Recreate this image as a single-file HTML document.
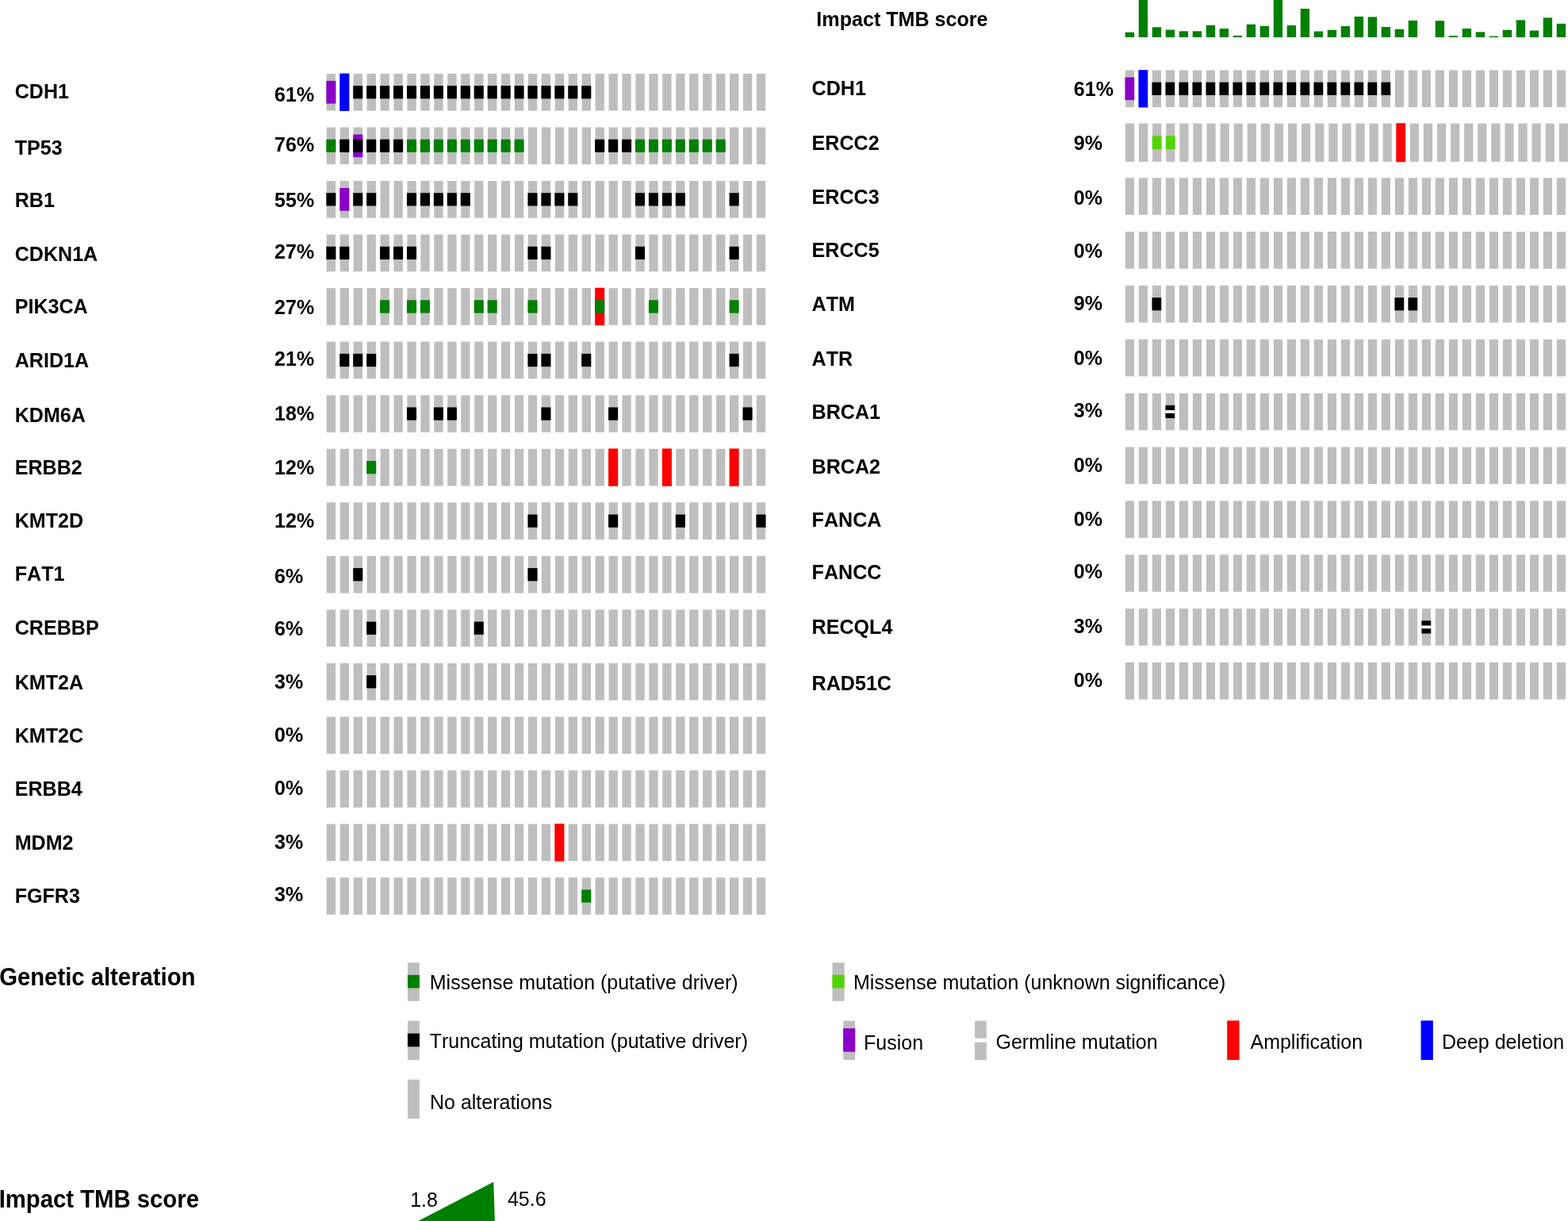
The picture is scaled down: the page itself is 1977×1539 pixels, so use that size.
<!DOCTYPE html>
<html lang="en">
<head>
<meta charset="utf-8">
<title>Oncoprint – genetic alterations and Impact TMB score</title>
<style>
  html, body { margin: 0; padding: 0; background: #ffffff; }
  body { width: 1977px; height: 1539px; overflow: hidden; }
  svg { display: block; }
  text { font-family: "Liberation Sans", sans-serif; fill: #000; font-kerning: none; font-variant-ligatures: none; }
  .gene { font-size: 25.1px; font-weight: bold; }
  .pct  { font-size: 25.1px; font-weight: bold; }
  .tmbt { font-size: 25.1px; font-weight: bold; }
  .head { font-size: 29.3px; font-weight: bold; }
  .leg  { font-size: 25px; font-weight: normal; }
</style>
</head>
<body>
<svg width="1977" height="1539" viewBox="0 0 1977 1539">
<rect x="0" y="0" width="1977" height="1539" fill="#ffffff"/>
<g id="left-panel">
<g class="row">
<rect x="411.80" y="92.90" width="11.30" height="46.70" fill="#bebebe"/>
<rect x="411.35" y="101.89" width="12.10" height="28.72" fill="#8b00c9"/>
<rect x="428.29" y="92.55" width="12.10" height="47.40" fill="#0000ff"/>
<rect x="445.68" y="92.90" width="11.30" height="46.70" fill="#bebebe"/>
<rect x="445.23" y="108.12" width="12.10" height="16.27" fill="#000000"/>
<rect x="462.62" y="92.90" width="11.30" height="46.70" fill="#bebebe"/>
<rect x="462.17" y="108.12" width="12.10" height="16.27" fill="#000000"/>
<rect x="479.56" y="92.90" width="11.30" height="46.70" fill="#bebebe"/>
<rect x="479.11" y="108.12" width="12.10" height="16.27" fill="#000000"/>
<rect x="496.50" y="92.90" width="11.30" height="46.70" fill="#bebebe"/>
<rect x="496.05" y="108.12" width="12.10" height="16.27" fill="#000000"/>
<rect x="513.44" y="92.90" width="11.30" height="46.70" fill="#bebebe"/>
<rect x="512.99" y="108.12" width="12.10" height="16.27" fill="#000000"/>
<rect x="530.38" y="92.90" width="11.30" height="46.70" fill="#bebebe"/>
<rect x="529.93" y="108.12" width="12.10" height="16.27" fill="#000000"/>
<rect x="547.32" y="92.90" width="11.30" height="46.70" fill="#bebebe"/>
<rect x="546.87" y="108.12" width="12.10" height="16.27" fill="#000000"/>
<rect x="564.26" y="92.90" width="11.30" height="46.70" fill="#bebebe"/>
<rect x="563.81" y="108.12" width="12.10" height="16.27" fill="#000000"/>
<rect x="581.20" y="92.90" width="11.30" height="46.70" fill="#bebebe"/>
<rect x="580.75" y="108.12" width="12.10" height="16.27" fill="#000000"/>
<rect x="598.14" y="92.90" width="11.30" height="46.70" fill="#bebebe"/>
<rect x="597.69" y="108.12" width="12.10" height="16.27" fill="#000000"/>
<rect x="615.08" y="92.90" width="11.30" height="46.70" fill="#bebebe"/>
<rect x="614.63" y="108.12" width="12.10" height="16.27" fill="#000000"/>
<rect x="632.02" y="92.90" width="11.30" height="46.70" fill="#bebebe"/>
<rect x="631.57" y="108.12" width="12.10" height="16.27" fill="#000000"/>
<rect x="648.96" y="92.90" width="11.30" height="46.70" fill="#bebebe"/>
<rect x="648.51" y="108.12" width="12.10" height="16.27" fill="#000000"/>
<rect x="665.90" y="92.90" width="11.30" height="46.70" fill="#bebebe"/>
<rect x="665.45" y="108.12" width="12.10" height="16.27" fill="#000000"/>
<rect x="682.84" y="92.90" width="11.30" height="46.70" fill="#bebebe"/>
<rect x="682.39" y="108.12" width="12.10" height="16.27" fill="#000000"/>
<rect x="699.78" y="92.90" width="11.30" height="46.70" fill="#bebebe"/>
<rect x="699.33" y="108.12" width="12.10" height="16.27" fill="#000000"/>
<rect x="716.72" y="92.90" width="11.30" height="46.70" fill="#bebebe"/>
<rect x="716.27" y="108.12" width="12.10" height="16.27" fill="#000000"/>
<rect x="733.66" y="92.90" width="11.30" height="46.70" fill="#bebebe"/>
<rect x="733.21" y="108.12" width="12.10" height="16.27" fill="#000000"/>
<rect x="750.60" y="92.90" width="11.30" height="46.70" fill="#bebebe"/>
<rect x="767.54" y="92.90" width="11.30" height="46.70" fill="#bebebe"/>
<rect x="784.48" y="92.90" width="11.30" height="46.70" fill="#bebebe"/>
<rect x="801.42" y="92.90" width="11.30" height="46.70" fill="#bebebe"/>
<rect x="818.36" y="92.90" width="11.30" height="46.70" fill="#bebebe"/>
<rect x="835.30" y="92.90" width="11.30" height="46.70" fill="#bebebe"/>
<rect x="852.24" y="92.90" width="11.30" height="46.70" fill="#bebebe"/>
<rect x="869.18" y="92.90" width="11.30" height="46.70" fill="#bebebe"/>
<rect x="886.12" y="92.90" width="11.30" height="46.70" fill="#bebebe"/>
<rect x="903.06" y="92.90" width="11.30" height="46.70" fill="#bebebe"/>
<rect x="920.00" y="92.90" width="11.30" height="46.70" fill="#bebebe"/>
<rect x="936.94" y="92.90" width="11.30" height="46.70" fill="#bebebe"/>
<rect x="953.88" y="92.90" width="11.30" height="46.70" fill="#bebebe"/>
</g>
<g class="row">
<rect x="411.80" y="160.45" width="11.30" height="46.70" fill="#bebebe"/>
<rect x="411.35" y="175.67" width="12.10" height="16.27" fill="#008000"/>
<rect x="428.74" y="160.45" width="11.30" height="46.70" fill="#bebebe"/>
<rect x="428.29" y="175.67" width="12.10" height="16.27" fill="#000000"/>
<rect x="445.68" y="160.45" width="11.30" height="46.70" fill="#bebebe"/>
<rect x="445.23" y="169.44" width="12.10" height="28.72" fill="#8b00c9"/>
<rect x="445.23" y="175.67" width="12.10" height="16.27" fill="#000000"/>
<rect x="462.62" y="160.45" width="11.30" height="46.70" fill="#bebebe"/>
<rect x="462.17" y="175.67" width="12.10" height="16.27" fill="#000000"/>
<rect x="479.56" y="160.45" width="11.30" height="46.70" fill="#bebebe"/>
<rect x="479.11" y="175.67" width="12.10" height="16.27" fill="#000000"/>
<rect x="496.50" y="160.45" width="11.30" height="46.70" fill="#bebebe"/>
<rect x="496.05" y="175.67" width="12.10" height="16.27" fill="#000000"/>
<rect x="513.44" y="160.45" width="11.30" height="46.70" fill="#bebebe"/>
<rect x="512.99" y="175.67" width="12.10" height="16.27" fill="#008000"/>
<rect x="530.38" y="160.45" width="11.30" height="46.70" fill="#bebebe"/>
<rect x="529.93" y="175.67" width="12.10" height="16.27" fill="#008000"/>
<rect x="547.32" y="160.45" width="11.30" height="46.70" fill="#bebebe"/>
<rect x="546.87" y="175.67" width="12.10" height="16.27" fill="#008000"/>
<rect x="564.26" y="160.45" width="11.30" height="46.70" fill="#bebebe"/>
<rect x="563.81" y="175.67" width="12.10" height="16.27" fill="#008000"/>
<rect x="581.20" y="160.45" width="11.30" height="46.70" fill="#bebebe"/>
<rect x="580.75" y="175.67" width="12.10" height="16.27" fill="#008000"/>
<rect x="598.14" y="160.45" width="11.30" height="46.70" fill="#bebebe"/>
<rect x="597.69" y="175.67" width="12.10" height="16.27" fill="#008000"/>
<rect x="615.08" y="160.45" width="11.30" height="46.70" fill="#bebebe"/>
<rect x="614.63" y="175.67" width="12.10" height="16.27" fill="#008000"/>
<rect x="632.02" y="160.45" width="11.30" height="46.70" fill="#bebebe"/>
<rect x="631.57" y="175.67" width="12.10" height="16.27" fill="#008000"/>
<rect x="648.96" y="160.45" width="11.30" height="46.70" fill="#bebebe"/>
<rect x="648.51" y="175.67" width="12.10" height="16.27" fill="#008000"/>
<rect x="665.90" y="160.45" width="11.30" height="46.70" fill="#bebebe"/>
<rect x="682.84" y="160.45" width="11.30" height="46.70" fill="#bebebe"/>
<rect x="699.78" y="160.45" width="11.30" height="46.70" fill="#bebebe"/>
<rect x="716.72" y="160.45" width="11.30" height="46.70" fill="#bebebe"/>
<rect x="733.66" y="160.45" width="11.30" height="46.70" fill="#bebebe"/>
<rect x="750.60" y="160.45" width="11.30" height="46.70" fill="#bebebe"/>
<rect x="750.15" y="175.67" width="12.10" height="16.27" fill="#000000"/>
<rect x="767.54" y="160.45" width="11.30" height="46.70" fill="#bebebe"/>
<rect x="767.09" y="175.67" width="12.10" height="16.27" fill="#000000"/>
<rect x="784.48" y="160.45" width="11.30" height="46.70" fill="#bebebe"/>
<rect x="784.03" y="175.67" width="12.10" height="16.27" fill="#000000"/>
<rect x="801.42" y="160.45" width="11.30" height="46.70" fill="#bebebe"/>
<rect x="800.97" y="175.67" width="12.10" height="16.27" fill="#008000"/>
<rect x="818.36" y="160.45" width="11.30" height="46.70" fill="#bebebe"/>
<rect x="817.91" y="175.67" width="12.10" height="16.27" fill="#008000"/>
<rect x="835.30" y="160.45" width="11.30" height="46.70" fill="#bebebe"/>
<rect x="834.85" y="175.67" width="12.10" height="16.27" fill="#008000"/>
<rect x="852.24" y="160.45" width="11.30" height="46.70" fill="#bebebe"/>
<rect x="851.79" y="175.67" width="12.10" height="16.27" fill="#008000"/>
<rect x="869.18" y="160.45" width="11.30" height="46.70" fill="#bebebe"/>
<rect x="868.73" y="175.67" width="12.10" height="16.27" fill="#008000"/>
<rect x="886.12" y="160.45" width="11.30" height="46.70" fill="#bebebe"/>
<rect x="885.67" y="175.67" width="12.10" height="16.27" fill="#008000"/>
<rect x="903.06" y="160.45" width="11.30" height="46.70" fill="#bebebe"/>
<rect x="902.61" y="175.67" width="12.10" height="16.27" fill="#008000"/>
<rect x="920.00" y="160.45" width="11.30" height="46.70" fill="#bebebe"/>
<rect x="936.94" y="160.45" width="11.30" height="46.70" fill="#bebebe"/>
<rect x="953.88" y="160.45" width="11.30" height="46.70" fill="#bebebe"/>
</g>
<g class="row">
<rect x="411.80" y="228.00" width="11.30" height="46.70" fill="#bebebe"/>
<rect x="411.35" y="243.22" width="12.10" height="16.27" fill="#000000"/>
<rect x="428.74" y="228.00" width="11.30" height="46.70" fill="#bebebe"/>
<rect x="428.29" y="236.99" width="12.10" height="28.72" fill="#8b00c9"/>
<rect x="445.68" y="228.00" width="11.30" height="46.70" fill="#bebebe"/>
<rect x="445.23" y="243.22" width="12.10" height="16.27" fill="#000000"/>
<rect x="462.62" y="228.00" width="11.30" height="46.70" fill="#bebebe"/>
<rect x="462.17" y="243.22" width="12.10" height="16.27" fill="#000000"/>
<rect x="479.56" y="228.00" width="11.30" height="46.70" fill="#bebebe"/>
<rect x="496.50" y="228.00" width="11.30" height="46.70" fill="#bebebe"/>
<rect x="513.44" y="228.00" width="11.30" height="46.70" fill="#bebebe"/>
<rect x="512.99" y="243.22" width="12.10" height="16.27" fill="#000000"/>
<rect x="530.38" y="228.00" width="11.30" height="46.70" fill="#bebebe"/>
<rect x="529.93" y="243.22" width="12.10" height="16.27" fill="#000000"/>
<rect x="547.32" y="228.00" width="11.30" height="46.70" fill="#bebebe"/>
<rect x="546.87" y="243.22" width="12.10" height="16.27" fill="#000000"/>
<rect x="564.26" y="228.00" width="11.30" height="46.70" fill="#bebebe"/>
<rect x="563.81" y="243.22" width="12.10" height="16.27" fill="#000000"/>
<rect x="581.20" y="228.00" width="11.30" height="46.70" fill="#bebebe"/>
<rect x="580.75" y="243.22" width="12.10" height="16.27" fill="#000000"/>
<rect x="598.14" y="228.00" width="11.30" height="46.70" fill="#bebebe"/>
<rect x="615.08" y="228.00" width="11.30" height="46.70" fill="#bebebe"/>
<rect x="632.02" y="228.00" width="11.30" height="46.70" fill="#bebebe"/>
<rect x="648.96" y="228.00" width="11.30" height="46.70" fill="#bebebe"/>
<rect x="665.90" y="228.00" width="11.30" height="46.70" fill="#bebebe"/>
<rect x="665.45" y="243.22" width="12.10" height="16.27" fill="#000000"/>
<rect x="682.84" y="228.00" width="11.30" height="46.70" fill="#bebebe"/>
<rect x="682.39" y="243.22" width="12.10" height="16.27" fill="#000000"/>
<rect x="699.78" y="228.00" width="11.30" height="46.70" fill="#bebebe"/>
<rect x="699.33" y="243.22" width="12.10" height="16.27" fill="#000000"/>
<rect x="716.72" y="228.00" width="11.30" height="46.70" fill="#bebebe"/>
<rect x="716.27" y="243.22" width="12.10" height="16.27" fill="#000000"/>
<rect x="733.66" y="228.00" width="11.30" height="46.70" fill="#bebebe"/>
<rect x="750.60" y="228.00" width="11.30" height="46.70" fill="#bebebe"/>
<rect x="767.54" y="228.00" width="11.30" height="46.70" fill="#bebebe"/>
<rect x="784.48" y="228.00" width="11.30" height="46.70" fill="#bebebe"/>
<rect x="801.42" y="228.00" width="11.30" height="46.70" fill="#bebebe"/>
<rect x="800.97" y="243.22" width="12.10" height="16.27" fill="#000000"/>
<rect x="818.36" y="228.00" width="11.30" height="46.70" fill="#bebebe"/>
<rect x="817.91" y="243.22" width="12.10" height="16.27" fill="#000000"/>
<rect x="835.30" y="228.00" width="11.30" height="46.70" fill="#bebebe"/>
<rect x="834.85" y="243.22" width="12.10" height="16.27" fill="#000000"/>
<rect x="852.24" y="228.00" width="11.30" height="46.70" fill="#bebebe"/>
<rect x="851.79" y="243.22" width="12.10" height="16.27" fill="#000000"/>
<rect x="869.18" y="228.00" width="11.30" height="46.70" fill="#bebebe"/>
<rect x="886.12" y="228.00" width="11.30" height="46.70" fill="#bebebe"/>
<rect x="903.06" y="228.00" width="11.30" height="46.70" fill="#bebebe"/>
<rect x="920.00" y="228.00" width="11.30" height="46.70" fill="#bebebe"/>
<rect x="919.55" y="243.22" width="12.10" height="16.27" fill="#000000"/>
<rect x="936.94" y="228.00" width="11.30" height="46.70" fill="#bebebe"/>
<rect x="953.88" y="228.00" width="11.30" height="46.70" fill="#bebebe"/>
</g>
<g class="row">
<rect x="411.80" y="295.55" width="11.30" height="46.70" fill="#bebebe"/>
<rect x="411.35" y="310.77" width="12.10" height="16.27" fill="#000000"/>
<rect x="428.74" y="295.55" width="11.30" height="46.70" fill="#bebebe"/>
<rect x="428.29" y="310.77" width="12.10" height="16.27" fill="#000000"/>
<rect x="445.68" y="295.55" width="11.30" height="46.70" fill="#bebebe"/>
<rect x="462.62" y="295.55" width="11.30" height="46.70" fill="#bebebe"/>
<rect x="479.56" y="295.55" width="11.30" height="46.70" fill="#bebebe"/>
<rect x="479.11" y="310.77" width="12.10" height="16.27" fill="#000000"/>
<rect x="496.50" y="295.55" width="11.30" height="46.70" fill="#bebebe"/>
<rect x="496.05" y="310.77" width="12.10" height="16.27" fill="#000000"/>
<rect x="513.44" y="295.55" width="11.30" height="46.70" fill="#bebebe"/>
<rect x="512.99" y="310.77" width="12.10" height="16.27" fill="#000000"/>
<rect x="530.38" y="295.55" width="11.30" height="46.70" fill="#bebebe"/>
<rect x="547.32" y="295.55" width="11.30" height="46.70" fill="#bebebe"/>
<rect x="564.26" y="295.55" width="11.30" height="46.70" fill="#bebebe"/>
<rect x="581.20" y="295.55" width="11.30" height="46.70" fill="#bebebe"/>
<rect x="598.14" y="295.55" width="11.30" height="46.70" fill="#bebebe"/>
<rect x="615.08" y="295.55" width="11.30" height="46.70" fill="#bebebe"/>
<rect x="632.02" y="295.55" width="11.30" height="46.70" fill="#bebebe"/>
<rect x="648.96" y="295.55" width="11.30" height="46.70" fill="#bebebe"/>
<rect x="665.90" y="295.55" width="11.30" height="46.70" fill="#bebebe"/>
<rect x="665.45" y="310.77" width="12.10" height="16.27" fill="#000000"/>
<rect x="682.84" y="295.55" width="11.30" height="46.70" fill="#bebebe"/>
<rect x="682.39" y="310.77" width="12.10" height="16.27" fill="#000000"/>
<rect x="699.78" y="295.55" width="11.30" height="46.70" fill="#bebebe"/>
<rect x="716.72" y="295.55" width="11.30" height="46.70" fill="#bebebe"/>
<rect x="733.66" y="295.55" width="11.30" height="46.70" fill="#bebebe"/>
<rect x="750.60" y="295.55" width="11.30" height="46.70" fill="#bebebe"/>
<rect x="767.54" y="295.55" width="11.30" height="46.70" fill="#bebebe"/>
<rect x="784.48" y="295.55" width="11.30" height="46.70" fill="#bebebe"/>
<rect x="801.42" y="295.55" width="11.30" height="46.70" fill="#bebebe"/>
<rect x="800.97" y="310.77" width="12.10" height="16.27" fill="#000000"/>
<rect x="818.36" y="295.55" width="11.30" height="46.70" fill="#bebebe"/>
<rect x="835.30" y="295.55" width="11.30" height="46.70" fill="#bebebe"/>
<rect x="852.24" y="295.55" width="11.30" height="46.70" fill="#bebebe"/>
<rect x="869.18" y="295.55" width="11.30" height="46.70" fill="#bebebe"/>
<rect x="886.12" y="295.55" width="11.30" height="46.70" fill="#bebebe"/>
<rect x="903.06" y="295.55" width="11.30" height="46.70" fill="#bebebe"/>
<rect x="920.00" y="295.55" width="11.30" height="46.70" fill="#bebebe"/>
<rect x="919.55" y="310.77" width="12.10" height="16.27" fill="#000000"/>
<rect x="936.94" y="295.55" width="11.30" height="46.70" fill="#bebebe"/>
<rect x="953.88" y="295.55" width="11.30" height="46.70" fill="#bebebe"/>
</g>
<g class="row">
<rect x="411.80" y="363.10" width="11.30" height="46.70" fill="#bebebe"/>
<rect x="428.74" y="363.10" width="11.30" height="46.70" fill="#bebebe"/>
<rect x="445.68" y="363.10" width="11.30" height="46.70" fill="#bebebe"/>
<rect x="462.62" y="363.10" width="11.30" height="46.70" fill="#bebebe"/>
<rect x="479.56" y="363.10" width="11.30" height="46.70" fill="#bebebe"/>
<rect x="479.11" y="378.32" width="12.10" height="16.27" fill="#008000"/>
<rect x="496.50" y="363.10" width="11.30" height="46.70" fill="#bebebe"/>
<rect x="513.44" y="363.10" width="11.30" height="46.70" fill="#bebebe"/>
<rect x="512.99" y="378.32" width="12.10" height="16.27" fill="#008000"/>
<rect x="530.38" y="363.10" width="11.30" height="46.70" fill="#bebebe"/>
<rect x="529.93" y="378.32" width="12.10" height="16.27" fill="#008000"/>
<rect x="547.32" y="363.10" width="11.30" height="46.70" fill="#bebebe"/>
<rect x="564.26" y="363.10" width="11.30" height="46.70" fill="#bebebe"/>
<rect x="581.20" y="363.10" width="11.30" height="46.70" fill="#bebebe"/>
<rect x="598.14" y="363.10" width="11.30" height="46.70" fill="#bebebe"/>
<rect x="597.69" y="378.32" width="12.10" height="16.27" fill="#008000"/>
<rect x="615.08" y="363.10" width="11.30" height="46.70" fill="#bebebe"/>
<rect x="614.63" y="378.32" width="12.10" height="16.27" fill="#008000"/>
<rect x="632.02" y="363.10" width="11.30" height="46.70" fill="#bebebe"/>
<rect x="648.96" y="363.10" width="11.30" height="46.70" fill="#bebebe"/>
<rect x="665.90" y="363.10" width="11.30" height="46.70" fill="#bebebe"/>
<rect x="665.45" y="378.32" width="12.10" height="16.27" fill="#008000"/>
<rect x="682.84" y="363.10" width="11.30" height="46.70" fill="#bebebe"/>
<rect x="699.78" y="363.10" width="11.30" height="46.70" fill="#bebebe"/>
<rect x="716.72" y="363.10" width="11.30" height="46.70" fill="#bebebe"/>
<rect x="733.66" y="363.10" width="11.30" height="46.70" fill="#bebebe"/>
<rect x="750.15" y="362.75" width="12.10" height="47.40" fill="#ff0000"/>
<rect x="750.15" y="378.32" width="12.10" height="16.27" fill="#008000"/>
<rect x="767.54" y="363.10" width="11.30" height="46.70" fill="#bebebe"/>
<rect x="784.48" y="363.10" width="11.30" height="46.70" fill="#bebebe"/>
<rect x="801.42" y="363.10" width="11.30" height="46.70" fill="#bebebe"/>
<rect x="818.36" y="363.10" width="11.30" height="46.70" fill="#bebebe"/>
<rect x="817.91" y="378.32" width="12.10" height="16.27" fill="#008000"/>
<rect x="835.30" y="363.10" width="11.30" height="46.70" fill="#bebebe"/>
<rect x="852.24" y="363.10" width="11.30" height="46.70" fill="#bebebe"/>
<rect x="869.18" y="363.10" width="11.30" height="46.70" fill="#bebebe"/>
<rect x="886.12" y="363.10" width="11.30" height="46.70" fill="#bebebe"/>
<rect x="903.06" y="363.10" width="11.30" height="46.70" fill="#bebebe"/>
<rect x="920.00" y="363.10" width="11.30" height="46.70" fill="#bebebe"/>
<rect x="919.55" y="378.32" width="12.10" height="16.27" fill="#008000"/>
<rect x="936.94" y="363.10" width="11.30" height="46.70" fill="#bebebe"/>
<rect x="953.88" y="363.10" width="11.30" height="46.70" fill="#bebebe"/>
</g>
<g class="row">
<rect x="411.80" y="430.65" width="11.30" height="46.70" fill="#bebebe"/>
<rect x="428.74" y="430.65" width="11.30" height="46.70" fill="#bebebe"/>
<rect x="428.29" y="445.87" width="12.10" height="16.27" fill="#000000"/>
<rect x="445.68" y="430.65" width="11.30" height="46.70" fill="#bebebe"/>
<rect x="445.23" y="445.87" width="12.10" height="16.27" fill="#000000"/>
<rect x="462.62" y="430.65" width="11.30" height="46.70" fill="#bebebe"/>
<rect x="462.17" y="445.87" width="12.10" height="16.27" fill="#000000"/>
<rect x="479.56" y="430.65" width="11.30" height="46.70" fill="#bebebe"/>
<rect x="496.50" y="430.65" width="11.30" height="46.70" fill="#bebebe"/>
<rect x="513.44" y="430.65" width="11.30" height="46.70" fill="#bebebe"/>
<rect x="530.38" y="430.65" width="11.30" height="46.70" fill="#bebebe"/>
<rect x="547.32" y="430.65" width="11.30" height="46.70" fill="#bebebe"/>
<rect x="564.26" y="430.65" width="11.30" height="46.70" fill="#bebebe"/>
<rect x="581.20" y="430.65" width="11.30" height="46.70" fill="#bebebe"/>
<rect x="598.14" y="430.65" width="11.30" height="46.70" fill="#bebebe"/>
<rect x="615.08" y="430.65" width="11.30" height="46.70" fill="#bebebe"/>
<rect x="632.02" y="430.65" width="11.30" height="46.70" fill="#bebebe"/>
<rect x="648.96" y="430.65" width="11.30" height="46.70" fill="#bebebe"/>
<rect x="665.90" y="430.65" width="11.30" height="46.70" fill="#bebebe"/>
<rect x="665.45" y="445.87" width="12.10" height="16.27" fill="#000000"/>
<rect x="682.84" y="430.65" width="11.30" height="46.70" fill="#bebebe"/>
<rect x="682.39" y="445.87" width="12.10" height="16.27" fill="#000000"/>
<rect x="699.78" y="430.65" width="11.30" height="46.70" fill="#bebebe"/>
<rect x="716.72" y="430.65" width="11.30" height="46.70" fill="#bebebe"/>
<rect x="733.66" y="430.65" width="11.30" height="46.70" fill="#bebebe"/>
<rect x="733.21" y="445.87" width="12.10" height="16.27" fill="#000000"/>
<rect x="750.60" y="430.65" width="11.30" height="46.70" fill="#bebebe"/>
<rect x="767.54" y="430.65" width="11.30" height="46.70" fill="#bebebe"/>
<rect x="784.48" y="430.65" width="11.30" height="46.70" fill="#bebebe"/>
<rect x="801.42" y="430.65" width="11.30" height="46.70" fill="#bebebe"/>
<rect x="818.36" y="430.65" width="11.30" height="46.70" fill="#bebebe"/>
<rect x="835.30" y="430.65" width="11.30" height="46.70" fill="#bebebe"/>
<rect x="852.24" y="430.65" width="11.30" height="46.70" fill="#bebebe"/>
<rect x="869.18" y="430.65" width="11.30" height="46.70" fill="#bebebe"/>
<rect x="886.12" y="430.65" width="11.30" height="46.70" fill="#bebebe"/>
<rect x="903.06" y="430.65" width="11.30" height="46.70" fill="#bebebe"/>
<rect x="920.00" y="430.65" width="11.30" height="46.70" fill="#bebebe"/>
<rect x="919.55" y="445.87" width="12.10" height="16.27" fill="#000000"/>
<rect x="936.94" y="430.65" width="11.30" height="46.70" fill="#bebebe"/>
<rect x="953.88" y="430.65" width="11.30" height="46.70" fill="#bebebe"/>
</g>
<g class="row">
<rect x="411.80" y="498.20" width="11.30" height="46.70" fill="#bebebe"/>
<rect x="428.74" y="498.20" width="11.30" height="46.70" fill="#bebebe"/>
<rect x="445.68" y="498.20" width="11.30" height="46.70" fill="#bebebe"/>
<rect x="462.62" y="498.20" width="11.30" height="46.70" fill="#bebebe"/>
<rect x="479.56" y="498.20" width="11.30" height="46.70" fill="#bebebe"/>
<rect x="496.50" y="498.20" width="11.30" height="46.70" fill="#bebebe"/>
<rect x="513.44" y="498.20" width="11.30" height="46.70" fill="#bebebe"/>
<rect x="512.99" y="513.42" width="12.10" height="16.27" fill="#000000"/>
<rect x="530.38" y="498.20" width="11.30" height="46.70" fill="#bebebe"/>
<rect x="547.32" y="498.20" width="11.30" height="46.70" fill="#bebebe"/>
<rect x="546.87" y="513.42" width="12.10" height="16.27" fill="#000000"/>
<rect x="564.26" y="498.20" width="11.30" height="46.70" fill="#bebebe"/>
<rect x="563.81" y="513.42" width="12.10" height="16.27" fill="#000000"/>
<rect x="581.20" y="498.20" width="11.30" height="46.70" fill="#bebebe"/>
<rect x="598.14" y="498.20" width="11.30" height="46.70" fill="#bebebe"/>
<rect x="615.08" y="498.20" width="11.30" height="46.70" fill="#bebebe"/>
<rect x="632.02" y="498.20" width="11.30" height="46.70" fill="#bebebe"/>
<rect x="648.96" y="498.20" width="11.30" height="46.70" fill="#bebebe"/>
<rect x="665.90" y="498.20" width="11.30" height="46.70" fill="#bebebe"/>
<rect x="682.84" y="498.20" width="11.30" height="46.70" fill="#bebebe"/>
<rect x="682.39" y="513.42" width="12.10" height="16.27" fill="#000000"/>
<rect x="699.78" y="498.20" width="11.30" height="46.70" fill="#bebebe"/>
<rect x="716.72" y="498.20" width="11.30" height="46.70" fill="#bebebe"/>
<rect x="733.66" y="498.20" width="11.30" height="46.70" fill="#bebebe"/>
<rect x="750.60" y="498.20" width="11.30" height="46.70" fill="#bebebe"/>
<rect x="767.54" y="498.20" width="11.30" height="46.70" fill="#bebebe"/>
<rect x="767.09" y="513.42" width="12.10" height="16.27" fill="#000000"/>
<rect x="784.48" y="498.20" width="11.30" height="46.70" fill="#bebebe"/>
<rect x="801.42" y="498.20" width="11.30" height="46.70" fill="#bebebe"/>
<rect x="818.36" y="498.20" width="11.30" height="46.70" fill="#bebebe"/>
<rect x="835.30" y="498.20" width="11.30" height="46.70" fill="#bebebe"/>
<rect x="852.24" y="498.20" width="11.30" height="46.70" fill="#bebebe"/>
<rect x="869.18" y="498.20" width="11.30" height="46.70" fill="#bebebe"/>
<rect x="886.12" y="498.20" width="11.30" height="46.70" fill="#bebebe"/>
<rect x="903.06" y="498.20" width="11.30" height="46.70" fill="#bebebe"/>
<rect x="920.00" y="498.20" width="11.30" height="46.70" fill="#bebebe"/>
<rect x="936.94" y="498.20" width="11.30" height="46.70" fill="#bebebe"/>
<rect x="936.49" y="513.42" width="12.10" height="16.27" fill="#000000"/>
<rect x="953.88" y="498.20" width="11.30" height="46.70" fill="#bebebe"/>
</g>
<g class="row">
<rect x="411.80" y="565.75" width="11.30" height="46.70" fill="#bebebe"/>
<rect x="428.74" y="565.75" width="11.30" height="46.70" fill="#bebebe"/>
<rect x="445.68" y="565.75" width="11.30" height="46.70" fill="#bebebe"/>
<rect x="462.62" y="565.75" width="11.30" height="46.70" fill="#bebebe"/>
<rect x="462.17" y="580.97" width="12.10" height="16.27" fill="#008000"/>
<rect x="479.56" y="565.75" width="11.30" height="46.70" fill="#bebebe"/>
<rect x="496.50" y="565.75" width="11.30" height="46.70" fill="#bebebe"/>
<rect x="513.44" y="565.75" width="11.30" height="46.70" fill="#bebebe"/>
<rect x="530.38" y="565.75" width="11.30" height="46.70" fill="#bebebe"/>
<rect x="547.32" y="565.75" width="11.30" height="46.70" fill="#bebebe"/>
<rect x="564.26" y="565.75" width="11.30" height="46.70" fill="#bebebe"/>
<rect x="581.20" y="565.75" width="11.30" height="46.70" fill="#bebebe"/>
<rect x="598.14" y="565.75" width="11.30" height="46.70" fill="#bebebe"/>
<rect x="615.08" y="565.75" width="11.30" height="46.70" fill="#bebebe"/>
<rect x="632.02" y="565.75" width="11.30" height="46.70" fill="#bebebe"/>
<rect x="648.96" y="565.75" width="11.30" height="46.70" fill="#bebebe"/>
<rect x="665.90" y="565.75" width="11.30" height="46.70" fill="#bebebe"/>
<rect x="682.84" y="565.75" width="11.30" height="46.70" fill="#bebebe"/>
<rect x="699.78" y="565.75" width="11.30" height="46.70" fill="#bebebe"/>
<rect x="716.72" y="565.75" width="11.30" height="46.70" fill="#bebebe"/>
<rect x="733.66" y="565.75" width="11.30" height="46.70" fill="#bebebe"/>
<rect x="750.60" y="565.75" width="11.30" height="46.70" fill="#bebebe"/>
<rect x="767.09" y="565.40" width="12.10" height="47.40" fill="#ff0000"/>
<rect x="784.48" y="565.75" width="11.30" height="46.70" fill="#bebebe"/>
<rect x="801.42" y="565.75" width="11.30" height="46.70" fill="#bebebe"/>
<rect x="818.36" y="565.75" width="11.30" height="46.70" fill="#bebebe"/>
<rect x="834.85" y="565.40" width="12.10" height="47.40" fill="#ff0000"/>
<rect x="852.24" y="565.75" width="11.30" height="46.70" fill="#bebebe"/>
<rect x="869.18" y="565.75" width="11.30" height="46.70" fill="#bebebe"/>
<rect x="886.12" y="565.75" width="11.30" height="46.70" fill="#bebebe"/>
<rect x="903.06" y="565.75" width="11.30" height="46.70" fill="#bebebe"/>
<rect x="919.55" y="565.40" width="12.10" height="47.40" fill="#ff0000"/>
<rect x="936.94" y="565.75" width="11.30" height="46.70" fill="#bebebe"/>
<rect x="953.88" y="565.75" width="11.30" height="46.70" fill="#bebebe"/>
</g>
<g class="row">
<rect x="411.80" y="633.30" width="11.30" height="46.70" fill="#bebebe"/>
<rect x="428.74" y="633.30" width="11.30" height="46.70" fill="#bebebe"/>
<rect x="445.68" y="633.30" width="11.30" height="46.70" fill="#bebebe"/>
<rect x="462.62" y="633.30" width="11.30" height="46.70" fill="#bebebe"/>
<rect x="479.56" y="633.30" width="11.30" height="46.70" fill="#bebebe"/>
<rect x="496.50" y="633.30" width="11.30" height="46.70" fill="#bebebe"/>
<rect x="513.44" y="633.30" width="11.30" height="46.70" fill="#bebebe"/>
<rect x="530.38" y="633.30" width="11.30" height="46.70" fill="#bebebe"/>
<rect x="547.32" y="633.30" width="11.30" height="46.70" fill="#bebebe"/>
<rect x="564.26" y="633.30" width="11.30" height="46.70" fill="#bebebe"/>
<rect x="581.20" y="633.30" width="11.30" height="46.70" fill="#bebebe"/>
<rect x="598.14" y="633.30" width="11.30" height="46.70" fill="#bebebe"/>
<rect x="615.08" y="633.30" width="11.30" height="46.70" fill="#bebebe"/>
<rect x="632.02" y="633.30" width="11.30" height="46.70" fill="#bebebe"/>
<rect x="648.96" y="633.30" width="11.30" height="46.70" fill="#bebebe"/>
<rect x="665.90" y="633.30" width="11.30" height="46.70" fill="#bebebe"/>
<rect x="665.45" y="648.52" width="12.10" height="16.27" fill="#000000"/>
<rect x="682.84" y="633.30" width="11.30" height="46.70" fill="#bebebe"/>
<rect x="699.78" y="633.30" width="11.30" height="46.70" fill="#bebebe"/>
<rect x="716.72" y="633.30" width="11.30" height="46.70" fill="#bebebe"/>
<rect x="733.66" y="633.30" width="11.30" height="46.70" fill="#bebebe"/>
<rect x="750.60" y="633.30" width="11.30" height="46.70" fill="#bebebe"/>
<rect x="767.54" y="633.30" width="11.30" height="46.70" fill="#bebebe"/>
<rect x="767.09" y="648.52" width="12.10" height="16.27" fill="#000000"/>
<rect x="784.48" y="633.30" width="11.30" height="46.70" fill="#bebebe"/>
<rect x="801.42" y="633.30" width="11.30" height="46.70" fill="#bebebe"/>
<rect x="818.36" y="633.30" width="11.30" height="46.70" fill="#bebebe"/>
<rect x="835.30" y="633.30" width="11.30" height="46.70" fill="#bebebe"/>
<rect x="852.24" y="633.30" width="11.30" height="46.70" fill="#bebebe"/>
<rect x="851.79" y="648.52" width="12.10" height="16.27" fill="#000000"/>
<rect x="869.18" y="633.30" width="11.30" height="46.70" fill="#bebebe"/>
<rect x="886.12" y="633.30" width="11.30" height="46.70" fill="#bebebe"/>
<rect x="903.06" y="633.30" width="11.30" height="46.70" fill="#bebebe"/>
<rect x="920.00" y="633.30" width="11.30" height="46.70" fill="#bebebe"/>
<rect x="936.94" y="633.30" width="11.30" height="46.70" fill="#bebebe"/>
<rect x="953.88" y="633.30" width="11.30" height="46.70" fill="#bebebe"/>
<rect x="953.43" y="648.52" width="12.10" height="16.27" fill="#000000"/>
</g>
<g class="row">
<rect x="411.80" y="700.85" width="11.30" height="46.70" fill="#bebebe"/>
<rect x="428.74" y="700.85" width="11.30" height="46.70" fill="#bebebe"/>
<rect x="445.68" y="700.85" width="11.30" height="46.70" fill="#bebebe"/>
<rect x="445.23" y="716.07" width="12.10" height="16.27" fill="#000000"/>
<rect x="462.62" y="700.85" width="11.30" height="46.70" fill="#bebebe"/>
<rect x="479.56" y="700.85" width="11.30" height="46.70" fill="#bebebe"/>
<rect x="496.50" y="700.85" width="11.30" height="46.70" fill="#bebebe"/>
<rect x="513.44" y="700.85" width="11.30" height="46.70" fill="#bebebe"/>
<rect x="530.38" y="700.85" width="11.30" height="46.70" fill="#bebebe"/>
<rect x="547.32" y="700.85" width="11.30" height="46.70" fill="#bebebe"/>
<rect x="564.26" y="700.85" width="11.30" height="46.70" fill="#bebebe"/>
<rect x="581.20" y="700.85" width="11.30" height="46.70" fill="#bebebe"/>
<rect x="598.14" y="700.85" width="11.30" height="46.70" fill="#bebebe"/>
<rect x="615.08" y="700.85" width="11.30" height="46.70" fill="#bebebe"/>
<rect x="632.02" y="700.85" width="11.30" height="46.70" fill="#bebebe"/>
<rect x="648.96" y="700.85" width="11.30" height="46.70" fill="#bebebe"/>
<rect x="665.90" y="700.85" width="11.30" height="46.70" fill="#bebebe"/>
<rect x="665.45" y="716.07" width="12.10" height="16.27" fill="#000000"/>
<rect x="682.84" y="700.85" width="11.30" height="46.70" fill="#bebebe"/>
<rect x="699.78" y="700.85" width="11.30" height="46.70" fill="#bebebe"/>
<rect x="716.72" y="700.85" width="11.30" height="46.70" fill="#bebebe"/>
<rect x="733.66" y="700.85" width="11.30" height="46.70" fill="#bebebe"/>
<rect x="750.60" y="700.85" width="11.30" height="46.70" fill="#bebebe"/>
<rect x="767.54" y="700.85" width="11.30" height="46.70" fill="#bebebe"/>
<rect x="784.48" y="700.85" width="11.30" height="46.70" fill="#bebebe"/>
<rect x="801.42" y="700.85" width="11.30" height="46.70" fill="#bebebe"/>
<rect x="818.36" y="700.85" width="11.30" height="46.70" fill="#bebebe"/>
<rect x="835.30" y="700.85" width="11.30" height="46.70" fill="#bebebe"/>
<rect x="852.24" y="700.85" width="11.30" height="46.70" fill="#bebebe"/>
<rect x="869.18" y="700.85" width="11.30" height="46.70" fill="#bebebe"/>
<rect x="886.12" y="700.85" width="11.30" height="46.70" fill="#bebebe"/>
<rect x="903.06" y="700.85" width="11.30" height="46.70" fill="#bebebe"/>
<rect x="920.00" y="700.85" width="11.30" height="46.70" fill="#bebebe"/>
<rect x="936.94" y="700.85" width="11.30" height="46.70" fill="#bebebe"/>
<rect x="953.88" y="700.85" width="11.30" height="46.70" fill="#bebebe"/>
</g>
<g class="row">
<rect x="411.80" y="768.40" width="11.30" height="46.70" fill="#bebebe"/>
<rect x="428.74" y="768.40" width="11.30" height="46.70" fill="#bebebe"/>
<rect x="445.68" y="768.40" width="11.30" height="46.70" fill="#bebebe"/>
<rect x="462.62" y="768.40" width="11.30" height="46.70" fill="#bebebe"/>
<rect x="462.17" y="783.62" width="12.10" height="16.27" fill="#000000"/>
<rect x="479.56" y="768.40" width="11.30" height="46.70" fill="#bebebe"/>
<rect x="496.50" y="768.40" width="11.30" height="46.70" fill="#bebebe"/>
<rect x="513.44" y="768.40" width="11.30" height="46.70" fill="#bebebe"/>
<rect x="530.38" y="768.40" width="11.30" height="46.70" fill="#bebebe"/>
<rect x="547.32" y="768.40" width="11.30" height="46.70" fill="#bebebe"/>
<rect x="564.26" y="768.40" width="11.30" height="46.70" fill="#bebebe"/>
<rect x="581.20" y="768.40" width="11.30" height="46.70" fill="#bebebe"/>
<rect x="598.14" y="768.40" width="11.30" height="46.70" fill="#bebebe"/>
<rect x="597.69" y="783.62" width="12.10" height="16.27" fill="#000000"/>
<rect x="615.08" y="768.40" width="11.30" height="46.70" fill="#bebebe"/>
<rect x="632.02" y="768.40" width="11.30" height="46.70" fill="#bebebe"/>
<rect x="648.96" y="768.40" width="11.30" height="46.70" fill="#bebebe"/>
<rect x="665.90" y="768.40" width="11.30" height="46.70" fill="#bebebe"/>
<rect x="682.84" y="768.40" width="11.30" height="46.70" fill="#bebebe"/>
<rect x="699.78" y="768.40" width="11.30" height="46.70" fill="#bebebe"/>
<rect x="716.72" y="768.40" width="11.30" height="46.70" fill="#bebebe"/>
<rect x="733.66" y="768.40" width="11.30" height="46.70" fill="#bebebe"/>
<rect x="750.60" y="768.40" width="11.30" height="46.70" fill="#bebebe"/>
<rect x="767.54" y="768.40" width="11.30" height="46.70" fill="#bebebe"/>
<rect x="784.48" y="768.40" width="11.30" height="46.70" fill="#bebebe"/>
<rect x="801.42" y="768.40" width="11.30" height="46.70" fill="#bebebe"/>
<rect x="818.36" y="768.40" width="11.30" height="46.70" fill="#bebebe"/>
<rect x="835.30" y="768.40" width="11.30" height="46.70" fill="#bebebe"/>
<rect x="852.24" y="768.40" width="11.30" height="46.70" fill="#bebebe"/>
<rect x="869.18" y="768.40" width="11.30" height="46.70" fill="#bebebe"/>
<rect x="886.12" y="768.40" width="11.30" height="46.70" fill="#bebebe"/>
<rect x="903.06" y="768.40" width="11.30" height="46.70" fill="#bebebe"/>
<rect x="920.00" y="768.40" width="11.30" height="46.70" fill="#bebebe"/>
<rect x="936.94" y="768.40" width="11.30" height="46.70" fill="#bebebe"/>
<rect x="953.88" y="768.40" width="11.30" height="46.70" fill="#bebebe"/>
</g>
<g class="row">
<rect x="411.80" y="835.95" width="11.30" height="46.70" fill="#bebebe"/>
<rect x="428.74" y="835.95" width="11.30" height="46.70" fill="#bebebe"/>
<rect x="445.68" y="835.95" width="11.30" height="46.70" fill="#bebebe"/>
<rect x="462.62" y="835.95" width="11.30" height="46.70" fill="#bebebe"/>
<rect x="462.17" y="851.17" width="12.10" height="16.27" fill="#000000"/>
<rect x="479.56" y="835.95" width="11.30" height="46.70" fill="#bebebe"/>
<rect x="496.50" y="835.95" width="11.30" height="46.70" fill="#bebebe"/>
<rect x="513.44" y="835.95" width="11.30" height="46.70" fill="#bebebe"/>
<rect x="530.38" y="835.95" width="11.30" height="46.70" fill="#bebebe"/>
<rect x="547.32" y="835.95" width="11.30" height="46.70" fill="#bebebe"/>
<rect x="564.26" y="835.95" width="11.30" height="46.70" fill="#bebebe"/>
<rect x="581.20" y="835.95" width="11.30" height="46.70" fill="#bebebe"/>
<rect x="598.14" y="835.95" width="11.30" height="46.70" fill="#bebebe"/>
<rect x="615.08" y="835.95" width="11.30" height="46.70" fill="#bebebe"/>
<rect x="632.02" y="835.95" width="11.30" height="46.70" fill="#bebebe"/>
<rect x="648.96" y="835.95" width="11.30" height="46.70" fill="#bebebe"/>
<rect x="665.90" y="835.95" width="11.30" height="46.70" fill="#bebebe"/>
<rect x="682.84" y="835.95" width="11.30" height="46.70" fill="#bebebe"/>
<rect x="699.78" y="835.95" width="11.30" height="46.70" fill="#bebebe"/>
<rect x="716.72" y="835.95" width="11.30" height="46.70" fill="#bebebe"/>
<rect x="733.66" y="835.95" width="11.30" height="46.70" fill="#bebebe"/>
<rect x="750.60" y="835.95" width="11.30" height="46.70" fill="#bebebe"/>
<rect x="767.54" y="835.95" width="11.30" height="46.70" fill="#bebebe"/>
<rect x="784.48" y="835.95" width="11.30" height="46.70" fill="#bebebe"/>
<rect x="801.42" y="835.95" width="11.30" height="46.70" fill="#bebebe"/>
<rect x="818.36" y="835.95" width="11.30" height="46.70" fill="#bebebe"/>
<rect x="835.30" y="835.95" width="11.30" height="46.70" fill="#bebebe"/>
<rect x="852.24" y="835.95" width="11.30" height="46.70" fill="#bebebe"/>
<rect x="869.18" y="835.95" width="11.30" height="46.70" fill="#bebebe"/>
<rect x="886.12" y="835.95" width="11.30" height="46.70" fill="#bebebe"/>
<rect x="903.06" y="835.95" width="11.30" height="46.70" fill="#bebebe"/>
<rect x="920.00" y="835.95" width="11.30" height="46.70" fill="#bebebe"/>
<rect x="936.94" y="835.95" width="11.30" height="46.70" fill="#bebebe"/>
<rect x="953.88" y="835.95" width="11.30" height="46.70" fill="#bebebe"/>
</g>
<g class="row">
<rect x="411.80" y="903.50" width="11.30" height="46.70" fill="#bebebe"/>
<rect x="428.74" y="903.50" width="11.30" height="46.70" fill="#bebebe"/>
<rect x="445.68" y="903.50" width="11.30" height="46.70" fill="#bebebe"/>
<rect x="462.62" y="903.50" width="11.30" height="46.70" fill="#bebebe"/>
<rect x="479.56" y="903.50" width="11.30" height="46.70" fill="#bebebe"/>
<rect x="496.50" y="903.50" width="11.30" height="46.70" fill="#bebebe"/>
<rect x="513.44" y="903.50" width="11.30" height="46.70" fill="#bebebe"/>
<rect x="530.38" y="903.50" width="11.30" height="46.70" fill="#bebebe"/>
<rect x="547.32" y="903.50" width="11.30" height="46.70" fill="#bebebe"/>
<rect x="564.26" y="903.50" width="11.30" height="46.70" fill="#bebebe"/>
<rect x="581.20" y="903.50" width="11.30" height="46.70" fill="#bebebe"/>
<rect x="598.14" y="903.50" width="11.30" height="46.70" fill="#bebebe"/>
<rect x="615.08" y="903.50" width="11.30" height="46.70" fill="#bebebe"/>
<rect x="632.02" y="903.50" width="11.30" height="46.70" fill="#bebebe"/>
<rect x="648.96" y="903.50" width="11.30" height="46.70" fill="#bebebe"/>
<rect x="665.90" y="903.50" width="11.30" height="46.70" fill="#bebebe"/>
<rect x="682.84" y="903.50" width="11.30" height="46.70" fill="#bebebe"/>
<rect x="699.78" y="903.50" width="11.30" height="46.70" fill="#bebebe"/>
<rect x="716.72" y="903.50" width="11.30" height="46.70" fill="#bebebe"/>
<rect x="733.66" y="903.50" width="11.30" height="46.70" fill="#bebebe"/>
<rect x="750.60" y="903.50" width="11.30" height="46.70" fill="#bebebe"/>
<rect x="767.54" y="903.50" width="11.30" height="46.70" fill="#bebebe"/>
<rect x="784.48" y="903.50" width="11.30" height="46.70" fill="#bebebe"/>
<rect x="801.42" y="903.50" width="11.30" height="46.70" fill="#bebebe"/>
<rect x="818.36" y="903.50" width="11.30" height="46.70" fill="#bebebe"/>
<rect x="835.30" y="903.50" width="11.30" height="46.70" fill="#bebebe"/>
<rect x="852.24" y="903.50" width="11.30" height="46.70" fill="#bebebe"/>
<rect x="869.18" y="903.50" width="11.30" height="46.70" fill="#bebebe"/>
<rect x="886.12" y="903.50" width="11.30" height="46.70" fill="#bebebe"/>
<rect x="903.06" y="903.50" width="11.30" height="46.70" fill="#bebebe"/>
<rect x="920.00" y="903.50" width="11.30" height="46.70" fill="#bebebe"/>
<rect x="936.94" y="903.50" width="11.30" height="46.70" fill="#bebebe"/>
<rect x="953.88" y="903.50" width="11.30" height="46.70" fill="#bebebe"/>
</g>
<g class="row">
<rect x="411.80" y="971.05" width="11.30" height="46.70" fill="#bebebe"/>
<rect x="428.74" y="971.05" width="11.30" height="46.70" fill="#bebebe"/>
<rect x="445.68" y="971.05" width="11.30" height="46.70" fill="#bebebe"/>
<rect x="462.62" y="971.05" width="11.30" height="46.70" fill="#bebebe"/>
<rect x="479.56" y="971.05" width="11.30" height="46.70" fill="#bebebe"/>
<rect x="496.50" y="971.05" width="11.30" height="46.70" fill="#bebebe"/>
<rect x="513.44" y="971.05" width="11.30" height="46.70" fill="#bebebe"/>
<rect x="530.38" y="971.05" width="11.30" height="46.70" fill="#bebebe"/>
<rect x="547.32" y="971.05" width="11.30" height="46.70" fill="#bebebe"/>
<rect x="564.26" y="971.05" width="11.30" height="46.70" fill="#bebebe"/>
<rect x="581.20" y="971.05" width="11.30" height="46.70" fill="#bebebe"/>
<rect x="598.14" y="971.05" width="11.30" height="46.70" fill="#bebebe"/>
<rect x="615.08" y="971.05" width="11.30" height="46.70" fill="#bebebe"/>
<rect x="632.02" y="971.05" width="11.30" height="46.70" fill="#bebebe"/>
<rect x="648.96" y="971.05" width="11.30" height="46.70" fill="#bebebe"/>
<rect x="665.90" y="971.05" width="11.30" height="46.70" fill="#bebebe"/>
<rect x="682.84" y="971.05" width="11.30" height="46.70" fill="#bebebe"/>
<rect x="699.78" y="971.05" width="11.30" height="46.70" fill="#bebebe"/>
<rect x="716.72" y="971.05" width="11.30" height="46.70" fill="#bebebe"/>
<rect x="733.66" y="971.05" width="11.30" height="46.70" fill="#bebebe"/>
<rect x="750.60" y="971.05" width="11.30" height="46.70" fill="#bebebe"/>
<rect x="767.54" y="971.05" width="11.30" height="46.70" fill="#bebebe"/>
<rect x="784.48" y="971.05" width="11.30" height="46.70" fill="#bebebe"/>
<rect x="801.42" y="971.05" width="11.30" height="46.70" fill="#bebebe"/>
<rect x="818.36" y="971.05" width="11.30" height="46.70" fill="#bebebe"/>
<rect x="835.30" y="971.05" width="11.30" height="46.70" fill="#bebebe"/>
<rect x="852.24" y="971.05" width="11.30" height="46.70" fill="#bebebe"/>
<rect x="869.18" y="971.05" width="11.30" height="46.70" fill="#bebebe"/>
<rect x="886.12" y="971.05" width="11.30" height="46.70" fill="#bebebe"/>
<rect x="903.06" y="971.05" width="11.30" height="46.70" fill="#bebebe"/>
<rect x="920.00" y="971.05" width="11.30" height="46.70" fill="#bebebe"/>
<rect x="936.94" y="971.05" width="11.30" height="46.70" fill="#bebebe"/>
<rect x="953.88" y="971.05" width="11.30" height="46.70" fill="#bebebe"/>
</g>
<g class="row">
<rect x="411.80" y="1038.60" width="11.30" height="46.70" fill="#bebebe"/>
<rect x="428.74" y="1038.60" width="11.30" height="46.70" fill="#bebebe"/>
<rect x="445.68" y="1038.60" width="11.30" height="46.70" fill="#bebebe"/>
<rect x="462.62" y="1038.60" width="11.30" height="46.70" fill="#bebebe"/>
<rect x="479.56" y="1038.60" width="11.30" height="46.70" fill="#bebebe"/>
<rect x="496.50" y="1038.60" width="11.30" height="46.70" fill="#bebebe"/>
<rect x="513.44" y="1038.60" width="11.30" height="46.70" fill="#bebebe"/>
<rect x="530.38" y="1038.60" width="11.30" height="46.70" fill="#bebebe"/>
<rect x="547.32" y="1038.60" width="11.30" height="46.70" fill="#bebebe"/>
<rect x="564.26" y="1038.60" width="11.30" height="46.70" fill="#bebebe"/>
<rect x="581.20" y="1038.60" width="11.30" height="46.70" fill="#bebebe"/>
<rect x="598.14" y="1038.60" width="11.30" height="46.70" fill="#bebebe"/>
<rect x="615.08" y="1038.60" width="11.30" height="46.70" fill="#bebebe"/>
<rect x="632.02" y="1038.60" width="11.30" height="46.70" fill="#bebebe"/>
<rect x="648.96" y="1038.60" width="11.30" height="46.70" fill="#bebebe"/>
<rect x="665.90" y="1038.60" width="11.30" height="46.70" fill="#bebebe"/>
<rect x="682.84" y="1038.60" width="11.30" height="46.70" fill="#bebebe"/>
<rect x="699.33" y="1038.25" width="12.10" height="47.40" fill="#ff0000"/>
<rect x="716.72" y="1038.60" width="11.30" height="46.70" fill="#bebebe"/>
<rect x="733.66" y="1038.60" width="11.30" height="46.70" fill="#bebebe"/>
<rect x="750.60" y="1038.60" width="11.30" height="46.70" fill="#bebebe"/>
<rect x="767.54" y="1038.60" width="11.30" height="46.70" fill="#bebebe"/>
<rect x="784.48" y="1038.60" width="11.30" height="46.70" fill="#bebebe"/>
<rect x="801.42" y="1038.60" width="11.30" height="46.70" fill="#bebebe"/>
<rect x="818.36" y="1038.60" width="11.30" height="46.70" fill="#bebebe"/>
<rect x="835.30" y="1038.60" width="11.30" height="46.70" fill="#bebebe"/>
<rect x="852.24" y="1038.60" width="11.30" height="46.70" fill="#bebebe"/>
<rect x="869.18" y="1038.60" width="11.30" height="46.70" fill="#bebebe"/>
<rect x="886.12" y="1038.60" width="11.30" height="46.70" fill="#bebebe"/>
<rect x="903.06" y="1038.60" width="11.30" height="46.70" fill="#bebebe"/>
<rect x="920.00" y="1038.60" width="11.30" height="46.70" fill="#bebebe"/>
<rect x="936.94" y="1038.60" width="11.30" height="46.70" fill="#bebebe"/>
<rect x="953.88" y="1038.60" width="11.30" height="46.70" fill="#bebebe"/>
</g>
<g class="row">
<rect x="411.80" y="1106.15" width="11.30" height="46.70" fill="#bebebe"/>
<rect x="428.74" y="1106.15" width="11.30" height="46.70" fill="#bebebe"/>
<rect x="445.68" y="1106.15" width="11.30" height="46.70" fill="#bebebe"/>
<rect x="462.62" y="1106.15" width="11.30" height="46.70" fill="#bebebe"/>
<rect x="479.56" y="1106.15" width="11.30" height="46.70" fill="#bebebe"/>
<rect x="496.50" y="1106.15" width="11.30" height="46.70" fill="#bebebe"/>
<rect x="513.44" y="1106.15" width="11.30" height="46.70" fill="#bebebe"/>
<rect x="530.38" y="1106.15" width="11.30" height="46.70" fill="#bebebe"/>
<rect x="547.32" y="1106.15" width="11.30" height="46.70" fill="#bebebe"/>
<rect x="564.26" y="1106.15" width="11.30" height="46.70" fill="#bebebe"/>
<rect x="581.20" y="1106.15" width="11.30" height="46.70" fill="#bebebe"/>
<rect x="598.14" y="1106.15" width="11.30" height="46.70" fill="#bebebe"/>
<rect x="615.08" y="1106.15" width="11.30" height="46.70" fill="#bebebe"/>
<rect x="632.02" y="1106.15" width="11.30" height="46.70" fill="#bebebe"/>
<rect x="648.96" y="1106.15" width="11.30" height="46.70" fill="#bebebe"/>
<rect x="665.90" y="1106.15" width="11.30" height="46.70" fill="#bebebe"/>
<rect x="682.84" y="1106.15" width="11.30" height="46.70" fill="#bebebe"/>
<rect x="699.78" y="1106.15" width="11.30" height="46.70" fill="#bebebe"/>
<rect x="716.72" y="1106.15" width="11.30" height="46.70" fill="#bebebe"/>
<rect x="733.66" y="1106.15" width="11.30" height="46.70" fill="#bebebe"/>
<rect x="733.21" y="1121.37" width="12.10" height="16.27" fill="#008000"/>
<rect x="750.60" y="1106.15" width="11.30" height="46.70" fill="#bebebe"/>
<rect x="767.54" y="1106.15" width="11.30" height="46.70" fill="#bebebe"/>
<rect x="784.48" y="1106.15" width="11.30" height="46.70" fill="#bebebe"/>
<rect x="801.42" y="1106.15" width="11.30" height="46.70" fill="#bebebe"/>
<rect x="818.36" y="1106.15" width="11.30" height="46.70" fill="#bebebe"/>
<rect x="835.30" y="1106.15" width="11.30" height="46.70" fill="#bebebe"/>
<rect x="852.24" y="1106.15" width="11.30" height="46.70" fill="#bebebe"/>
<rect x="869.18" y="1106.15" width="11.30" height="46.70" fill="#bebebe"/>
<rect x="886.12" y="1106.15" width="11.30" height="46.70" fill="#bebebe"/>
<rect x="903.06" y="1106.15" width="11.30" height="46.70" fill="#bebebe"/>
<rect x="920.00" y="1106.15" width="11.30" height="46.70" fill="#bebebe"/>
<rect x="936.94" y="1106.15" width="11.30" height="46.70" fill="#bebebe"/>
<rect x="953.88" y="1106.15" width="11.30" height="46.70" fill="#bebebe"/>
</g>
</g>
<g id="right-panel">
<g class="row">
<rect x="1418.85" y="88.50" width="11.15" height="46.60" fill="#bebebe"/>
<rect x="1418.45" y="97.47" width="11.80" height="28.66" fill="#8b00c9"/>
<rect x="1435.45" y="88.15" width="11.80" height="47.30" fill="#0000ff"/>
<rect x="1452.85" y="88.50" width="11.15" height="46.60" fill="#bebebe"/>
<rect x="1452.45" y="103.68" width="11.80" height="16.23" fill="#000000"/>
<rect x="1469.85" y="88.50" width="11.15" height="46.60" fill="#bebebe"/>
<rect x="1469.45" y="103.68" width="11.80" height="16.23" fill="#000000"/>
<rect x="1486.85" y="88.50" width="11.15" height="46.60" fill="#bebebe"/>
<rect x="1486.45" y="103.68" width="11.80" height="16.23" fill="#000000"/>
<rect x="1503.85" y="88.50" width="11.15" height="46.60" fill="#bebebe"/>
<rect x="1503.45" y="103.68" width="11.80" height="16.23" fill="#000000"/>
<rect x="1520.85" y="88.50" width="11.15" height="46.60" fill="#bebebe"/>
<rect x="1520.45" y="103.68" width="11.80" height="16.23" fill="#000000"/>
<rect x="1537.85" y="88.50" width="11.15" height="46.60" fill="#bebebe"/>
<rect x="1537.45" y="103.68" width="11.80" height="16.23" fill="#000000"/>
<rect x="1554.85" y="88.50" width="11.15" height="46.60" fill="#bebebe"/>
<rect x="1554.45" y="103.68" width="11.80" height="16.23" fill="#000000"/>
<rect x="1571.85" y="88.50" width="11.15" height="46.60" fill="#bebebe"/>
<rect x="1571.45" y="103.68" width="11.80" height="16.23" fill="#000000"/>
<rect x="1588.85" y="88.50" width="11.15" height="46.60" fill="#bebebe"/>
<rect x="1588.45" y="103.68" width="11.80" height="16.23" fill="#000000"/>
<rect x="1605.85" y="88.50" width="11.15" height="46.60" fill="#bebebe"/>
<rect x="1605.45" y="103.68" width="11.80" height="16.23" fill="#000000"/>
<rect x="1622.85" y="88.50" width="11.15" height="46.60" fill="#bebebe"/>
<rect x="1622.45" y="103.68" width="11.80" height="16.23" fill="#000000"/>
<rect x="1639.85" y="88.50" width="11.15" height="46.60" fill="#bebebe"/>
<rect x="1639.45" y="103.68" width="11.80" height="16.23" fill="#000000"/>
<rect x="1656.85" y="88.50" width="11.15" height="46.60" fill="#bebebe"/>
<rect x="1656.45" y="103.68" width="11.80" height="16.23" fill="#000000"/>
<rect x="1673.85" y="88.50" width="11.15" height="46.60" fill="#bebebe"/>
<rect x="1673.45" y="103.68" width="11.80" height="16.23" fill="#000000"/>
<rect x="1690.85" y="88.50" width="11.15" height="46.60" fill="#bebebe"/>
<rect x="1690.45" y="103.68" width="11.80" height="16.23" fill="#000000"/>
<rect x="1707.85" y="88.50" width="11.15" height="46.60" fill="#bebebe"/>
<rect x="1707.45" y="103.68" width="11.80" height="16.23" fill="#000000"/>
<rect x="1724.85" y="88.50" width="11.15" height="46.60" fill="#bebebe"/>
<rect x="1724.45" y="103.68" width="11.80" height="16.23" fill="#000000"/>
<rect x="1741.85" y="88.50" width="11.15" height="46.60" fill="#bebebe"/>
<rect x="1741.45" y="103.68" width="11.80" height="16.23" fill="#000000"/>
<rect x="1758.85" y="88.50" width="11.15" height="46.60" fill="#bebebe"/>
<rect x="1775.85" y="88.50" width="11.15" height="46.60" fill="#bebebe"/>
<rect x="1792.85" y="88.50" width="11.15" height="46.60" fill="#bebebe"/>
<rect x="1809.85" y="88.50" width="11.15" height="46.60" fill="#bebebe"/>
<rect x="1826.85" y="88.50" width="11.15" height="46.60" fill="#bebebe"/>
<rect x="1843.85" y="88.50" width="11.15" height="46.60" fill="#bebebe"/>
<rect x="1860.85" y="88.50" width="11.15" height="46.60" fill="#bebebe"/>
<rect x="1877.85" y="88.50" width="11.15" height="46.60" fill="#bebebe"/>
<rect x="1894.85" y="88.50" width="11.15" height="46.60" fill="#bebebe"/>
<rect x="1911.85" y="88.50" width="11.15" height="46.60" fill="#bebebe"/>
<rect x="1928.85" y="88.50" width="11.15" height="46.60" fill="#bebebe"/>
<rect x="1945.85" y="88.50" width="11.15" height="46.60" fill="#bebebe"/>
<rect x="1962.85" y="88.50" width="11.15" height="46.60" fill="#bebebe"/>
</g>
<g class="row">
<rect x="1418.95" y="155.60" width="11.20" height="48.30" fill="#bebebe"/>
<rect x="1436.04" y="155.60" width="11.20" height="48.30" fill="#bebebe"/>
<rect x="1453.12" y="155.60" width="11.20" height="48.30" fill="#bebebe"/>
<rect x="1452.72" y="171.35" width="11.85" height="16.80" fill="#53d400"/>
<rect x="1470.21" y="155.60" width="11.20" height="48.30" fill="#bebebe"/>
<rect x="1469.81" y="171.35" width="11.85" height="16.80" fill="#53d400"/>
<rect x="1487.30" y="155.60" width="11.20" height="48.30" fill="#bebebe"/>
<rect x="1504.38" y="155.60" width="11.20" height="48.30" fill="#bebebe"/>
<rect x="1521.47" y="155.60" width="11.20" height="48.30" fill="#bebebe"/>
<rect x="1538.56" y="155.60" width="11.20" height="48.30" fill="#bebebe"/>
<rect x="1555.65" y="155.60" width="11.20" height="48.30" fill="#bebebe"/>
<rect x="1572.73" y="155.60" width="11.20" height="48.30" fill="#bebebe"/>
<rect x="1589.82" y="155.60" width="11.20" height="48.30" fill="#bebebe"/>
<rect x="1606.91" y="155.60" width="11.20" height="48.30" fill="#bebebe"/>
<rect x="1623.99" y="155.60" width="11.20" height="48.30" fill="#bebebe"/>
<rect x="1641.08" y="155.60" width="11.20" height="48.30" fill="#bebebe"/>
<rect x="1658.17" y="155.60" width="11.20" height="48.30" fill="#bebebe"/>
<rect x="1675.26" y="155.60" width="11.20" height="48.30" fill="#bebebe"/>
<rect x="1692.34" y="155.60" width="11.20" height="48.30" fill="#bebebe"/>
<rect x="1709.43" y="155.60" width="11.20" height="48.30" fill="#bebebe"/>
<rect x="1726.52" y="155.60" width="11.20" height="48.30" fill="#bebebe"/>
<rect x="1743.60" y="155.60" width="11.20" height="48.30" fill="#bebebe"/>
<rect x="1760.29" y="155.25" width="11.85" height="49.00" fill="#ff0000"/>
<rect x="1777.78" y="155.60" width="11.20" height="48.30" fill="#bebebe"/>
<rect x="1794.86" y="155.60" width="11.20" height="48.30" fill="#bebebe"/>
<rect x="1811.95" y="155.60" width="11.20" height="48.30" fill="#bebebe"/>
<rect x="1829.04" y="155.60" width="11.20" height="48.30" fill="#bebebe"/>
<rect x="1846.12" y="155.60" width="11.20" height="48.30" fill="#bebebe"/>
<rect x="1863.21" y="155.60" width="11.20" height="48.30" fill="#bebebe"/>
<rect x="1880.30" y="155.60" width="11.20" height="48.30" fill="#bebebe"/>
<rect x="1897.39" y="155.60" width="11.20" height="48.30" fill="#bebebe"/>
<rect x="1914.47" y="155.60" width="11.20" height="48.30" fill="#bebebe"/>
<rect x="1931.56" y="155.60" width="11.20" height="48.30" fill="#bebebe"/>
<rect x="1948.65" y="155.60" width="11.20" height="48.30" fill="#bebebe"/>
<rect x="1965.73" y="155.60" width="11.20" height="48.30" fill="#bebebe"/>
</g>
<g class="row">
<rect x="1418.85" y="224.22" width="11.15" height="46.60" fill="#bebebe"/>
<rect x="1435.85" y="224.22" width="11.15" height="46.60" fill="#bebebe"/>
<rect x="1452.85" y="224.22" width="11.15" height="46.60" fill="#bebebe"/>
<rect x="1469.85" y="224.22" width="11.15" height="46.60" fill="#bebebe"/>
<rect x="1486.85" y="224.22" width="11.15" height="46.60" fill="#bebebe"/>
<rect x="1503.85" y="224.22" width="11.15" height="46.60" fill="#bebebe"/>
<rect x="1520.85" y="224.22" width="11.15" height="46.60" fill="#bebebe"/>
<rect x="1537.85" y="224.22" width="11.15" height="46.60" fill="#bebebe"/>
<rect x="1554.85" y="224.22" width="11.15" height="46.60" fill="#bebebe"/>
<rect x="1571.85" y="224.22" width="11.15" height="46.60" fill="#bebebe"/>
<rect x="1588.85" y="224.22" width="11.15" height="46.60" fill="#bebebe"/>
<rect x="1605.85" y="224.22" width="11.15" height="46.60" fill="#bebebe"/>
<rect x="1622.85" y="224.22" width="11.15" height="46.60" fill="#bebebe"/>
<rect x="1639.85" y="224.22" width="11.15" height="46.60" fill="#bebebe"/>
<rect x="1656.85" y="224.22" width="11.15" height="46.60" fill="#bebebe"/>
<rect x="1673.85" y="224.22" width="11.15" height="46.60" fill="#bebebe"/>
<rect x="1690.85" y="224.22" width="11.15" height="46.60" fill="#bebebe"/>
<rect x="1707.85" y="224.22" width="11.15" height="46.60" fill="#bebebe"/>
<rect x="1724.85" y="224.22" width="11.15" height="46.60" fill="#bebebe"/>
<rect x="1741.85" y="224.22" width="11.15" height="46.60" fill="#bebebe"/>
<rect x="1758.85" y="224.22" width="11.15" height="46.60" fill="#bebebe"/>
<rect x="1775.85" y="224.22" width="11.15" height="46.60" fill="#bebebe"/>
<rect x="1792.85" y="224.22" width="11.15" height="46.60" fill="#bebebe"/>
<rect x="1809.85" y="224.22" width="11.15" height="46.60" fill="#bebebe"/>
<rect x="1826.85" y="224.22" width="11.15" height="46.60" fill="#bebebe"/>
<rect x="1843.85" y="224.22" width="11.15" height="46.60" fill="#bebebe"/>
<rect x="1860.85" y="224.22" width="11.15" height="46.60" fill="#bebebe"/>
<rect x="1877.85" y="224.22" width="11.15" height="46.60" fill="#bebebe"/>
<rect x="1894.85" y="224.22" width="11.15" height="46.60" fill="#bebebe"/>
<rect x="1911.85" y="224.22" width="11.15" height="46.60" fill="#bebebe"/>
<rect x="1928.85" y="224.22" width="11.15" height="46.60" fill="#bebebe"/>
<rect x="1945.85" y="224.22" width="11.15" height="46.60" fill="#bebebe"/>
<rect x="1962.85" y="224.22" width="11.15" height="46.60" fill="#bebebe"/>
</g>
<g class="row">
<rect x="1418.85" y="292.08" width="11.15" height="46.60" fill="#bebebe"/>
<rect x="1435.85" y="292.08" width="11.15" height="46.60" fill="#bebebe"/>
<rect x="1452.85" y="292.08" width="11.15" height="46.60" fill="#bebebe"/>
<rect x="1469.85" y="292.08" width="11.15" height="46.60" fill="#bebebe"/>
<rect x="1486.85" y="292.08" width="11.15" height="46.60" fill="#bebebe"/>
<rect x="1503.85" y="292.08" width="11.15" height="46.60" fill="#bebebe"/>
<rect x="1520.85" y="292.08" width="11.15" height="46.60" fill="#bebebe"/>
<rect x="1537.85" y="292.08" width="11.15" height="46.60" fill="#bebebe"/>
<rect x="1554.85" y="292.08" width="11.15" height="46.60" fill="#bebebe"/>
<rect x="1571.85" y="292.08" width="11.15" height="46.60" fill="#bebebe"/>
<rect x="1588.85" y="292.08" width="11.15" height="46.60" fill="#bebebe"/>
<rect x="1605.85" y="292.08" width="11.15" height="46.60" fill="#bebebe"/>
<rect x="1622.85" y="292.08" width="11.15" height="46.60" fill="#bebebe"/>
<rect x="1639.85" y="292.08" width="11.15" height="46.60" fill="#bebebe"/>
<rect x="1656.85" y="292.08" width="11.15" height="46.60" fill="#bebebe"/>
<rect x="1673.85" y="292.08" width="11.15" height="46.60" fill="#bebebe"/>
<rect x="1690.85" y="292.08" width="11.15" height="46.60" fill="#bebebe"/>
<rect x="1707.85" y="292.08" width="11.15" height="46.60" fill="#bebebe"/>
<rect x="1724.85" y="292.08" width="11.15" height="46.60" fill="#bebebe"/>
<rect x="1741.85" y="292.08" width="11.15" height="46.60" fill="#bebebe"/>
<rect x="1758.85" y="292.08" width="11.15" height="46.60" fill="#bebebe"/>
<rect x="1775.85" y="292.08" width="11.15" height="46.60" fill="#bebebe"/>
<rect x="1792.85" y="292.08" width="11.15" height="46.60" fill="#bebebe"/>
<rect x="1809.85" y="292.08" width="11.15" height="46.60" fill="#bebebe"/>
<rect x="1826.85" y="292.08" width="11.15" height="46.60" fill="#bebebe"/>
<rect x="1843.85" y="292.08" width="11.15" height="46.60" fill="#bebebe"/>
<rect x="1860.85" y="292.08" width="11.15" height="46.60" fill="#bebebe"/>
<rect x="1877.85" y="292.08" width="11.15" height="46.60" fill="#bebebe"/>
<rect x="1894.85" y="292.08" width="11.15" height="46.60" fill="#bebebe"/>
<rect x="1911.85" y="292.08" width="11.15" height="46.60" fill="#bebebe"/>
<rect x="1928.85" y="292.08" width="11.15" height="46.60" fill="#bebebe"/>
<rect x="1945.85" y="292.08" width="11.15" height="46.60" fill="#bebebe"/>
<rect x="1962.85" y="292.08" width="11.15" height="46.60" fill="#bebebe"/>
</g>
<g class="row">
<rect x="1418.85" y="359.94" width="11.15" height="46.60" fill="#bebebe"/>
<rect x="1435.85" y="359.94" width="11.15" height="46.60" fill="#bebebe"/>
<rect x="1452.85" y="359.94" width="11.15" height="46.60" fill="#bebebe"/>
<rect x="1452.45" y="375.12" width="11.80" height="16.23" fill="#000000"/>
<rect x="1469.85" y="359.94" width="11.15" height="46.60" fill="#bebebe"/>
<rect x="1486.85" y="359.94" width="11.15" height="46.60" fill="#bebebe"/>
<rect x="1503.85" y="359.94" width="11.15" height="46.60" fill="#bebebe"/>
<rect x="1520.85" y="359.94" width="11.15" height="46.60" fill="#bebebe"/>
<rect x="1537.85" y="359.94" width="11.15" height="46.60" fill="#bebebe"/>
<rect x="1554.85" y="359.94" width="11.15" height="46.60" fill="#bebebe"/>
<rect x="1571.85" y="359.94" width="11.15" height="46.60" fill="#bebebe"/>
<rect x="1588.85" y="359.94" width="11.15" height="46.60" fill="#bebebe"/>
<rect x="1605.85" y="359.94" width="11.15" height="46.60" fill="#bebebe"/>
<rect x="1622.85" y="359.94" width="11.15" height="46.60" fill="#bebebe"/>
<rect x="1639.85" y="359.94" width="11.15" height="46.60" fill="#bebebe"/>
<rect x="1656.85" y="359.94" width="11.15" height="46.60" fill="#bebebe"/>
<rect x="1673.85" y="359.94" width="11.15" height="46.60" fill="#bebebe"/>
<rect x="1690.85" y="359.94" width="11.15" height="46.60" fill="#bebebe"/>
<rect x="1707.85" y="359.94" width="11.15" height="46.60" fill="#bebebe"/>
<rect x="1724.85" y="359.94" width="11.15" height="46.60" fill="#bebebe"/>
<rect x="1741.85" y="359.94" width="11.15" height="46.60" fill="#bebebe"/>
<rect x="1758.85" y="359.94" width="11.15" height="46.60" fill="#bebebe"/>
<rect x="1758.45" y="375.12" width="11.80" height="16.23" fill="#000000"/>
<rect x="1775.85" y="359.94" width="11.15" height="46.60" fill="#bebebe"/>
<rect x="1775.45" y="375.12" width="11.80" height="16.23" fill="#000000"/>
<rect x="1792.85" y="359.94" width="11.15" height="46.60" fill="#bebebe"/>
<rect x="1809.85" y="359.94" width="11.15" height="46.60" fill="#bebebe"/>
<rect x="1826.85" y="359.94" width="11.15" height="46.60" fill="#bebebe"/>
<rect x="1843.85" y="359.94" width="11.15" height="46.60" fill="#bebebe"/>
<rect x="1860.85" y="359.94" width="11.15" height="46.60" fill="#bebebe"/>
<rect x="1877.85" y="359.94" width="11.15" height="46.60" fill="#bebebe"/>
<rect x="1894.85" y="359.94" width="11.15" height="46.60" fill="#bebebe"/>
<rect x="1911.85" y="359.94" width="11.15" height="46.60" fill="#bebebe"/>
<rect x="1928.85" y="359.94" width="11.15" height="46.60" fill="#bebebe"/>
<rect x="1945.85" y="359.94" width="11.15" height="46.60" fill="#bebebe"/>
<rect x="1962.85" y="359.94" width="11.15" height="46.60" fill="#bebebe"/>
</g>
<g class="row">
<rect x="1418.85" y="427.80" width="11.15" height="46.60" fill="#bebebe"/>
<rect x="1435.85" y="427.80" width="11.15" height="46.60" fill="#bebebe"/>
<rect x="1452.85" y="427.80" width="11.15" height="46.60" fill="#bebebe"/>
<rect x="1469.85" y="427.80" width="11.15" height="46.60" fill="#bebebe"/>
<rect x="1486.85" y="427.80" width="11.15" height="46.60" fill="#bebebe"/>
<rect x="1503.85" y="427.80" width="11.15" height="46.60" fill="#bebebe"/>
<rect x="1520.85" y="427.80" width="11.15" height="46.60" fill="#bebebe"/>
<rect x="1537.85" y="427.80" width="11.15" height="46.60" fill="#bebebe"/>
<rect x="1554.85" y="427.80" width="11.15" height="46.60" fill="#bebebe"/>
<rect x="1571.85" y="427.80" width="11.15" height="46.60" fill="#bebebe"/>
<rect x="1588.85" y="427.80" width="11.15" height="46.60" fill="#bebebe"/>
<rect x="1605.85" y="427.80" width="11.15" height="46.60" fill="#bebebe"/>
<rect x="1622.85" y="427.80" width="11.15" height="46.60" fill="#bebebe"/>
<rect x="1639.85" y="427.80" width="11.15" height="46.60" fill="#bebebe"/>
<rect x="1656.85" y="427.80" width="11.15" height="46.60" fill="#bebebe"/>
<rect x="1673.85" y="427.80" width="11.15" height="46.60" fill="#bebebe"/>
<rect x="1690.85" y="427.80" width="11.15" height="46.60" fill="#bebebe"/>
<rect x="1707.85" y="427.80" width="11.15" height="46.60" fill="#bebebe"/>
<rect x="1724.85" y="427.80" width="11.15" height="46.60" fill="#bebebe"/>
<rect x="1741.85" y="427.80" width="11.15" height="46.60" fill="#bebebe"/>
<rect x="1758.85" y="427.80" width="11.15" height="46.60" fill="#bebebe"/>
<rect x="1775.85" y="427.80" width="11.15" height="46.60" fill="#bebebe"/>
<rect x="1792.85" y="427.80" width="11.15" height="46.60" fill="#bebebe"/>
<rect x="1809.85" y="427.80" width="11.15" height="46.60" fill="#bebebe"/>
<rect x="1826.85" y="427.80" width="11.15" height="46.60" fill="#bebebe"/>
<rect x="1843.85" y="427.80" width="11.15" height="46.60" fill="#bebebe"/>
<rect x="1860.85" y="427.80" width="11.15" height="46.60" fill="#bebebe"/>
<rect x="1877.85" y="427.80" width="11.15" height="46.60" fill="#bebebe"/>
<rect x="1894.85" y="427.80" width="11.15" height="46.60" fill="#bebebe"/>
<rect x="1911.85" y="427.80" width="11.15" height="46.60" fill="#bebebe"/>
<rect x="1928.85" y="427.80" width="11.15" height="46.60" fill="#bebebe"/>
<rect x="1945.85" y="427.80" width="11.15" height="46.60" fill="#bebebe"/>
<rect x="1962.85" y="427.80" width="11.15" height="46.60" fill="#bebebe"/>
</g>
<g class="row">
<rect x="1418.85" y="495.66" width="11.15" height="46.60" fill="#bebebe"/>
<rect x="1435.85" y="495.66" width="11.15" height="46.60" fill="#bebebe"/>
<rect x="1452.85" y="495.66" width="11.15" height="46.60" fill="#bebebe"/>
<rect x="1469.85" y="495.66" width="11.15" height="46.60" fill="#bebebe"/>
<rect x="1469.45" y="510.84" width="11.80" height="16.23" fill="#000000"/>
<rect x="1469.30" y="517.06" width="12.25" height="3.80" fill="#ffffff"/>
<rect x="1486.85" y="495.66" width="11.15" height="46.60" fill="#bebebe"/>
<rect x="1503.85" y="495.66" width="11.15" height="46.60" fill="#bebebe"/>
<rect x="1520.85" y="495.66" width="11.15" height="46.60" fill="#bebebe"/>
<rect x="1537.85" y="495.66" width="11.15" height="46.60" fill="#bebebe"/>
<rect x="1554.85" y="495.66" width="11.15" height="46.60" fill="#bebebe"/>
<rect x="1571.85" y="495.66" width="11.15" height="46.60" fill="#bebebe"/>
<rect x="1588.85" y="495.66" width="11.15" height="46.60" fill="#bebebe"/>
<rect x="1605.85" y="495.66" width="11.15" height="46.60" fill="#bebebe"/>
<rect x="1622.85" y="495.66" width="11.15" height="46.60" fill="#bebebe"/>
<rect x="1639.85" y="495.66" width="11.15" height="46.60" fill="#bebebe"/>
<rect x="1656.85" y="495.66" width="11.15" height="46.60" fill="#bebebe"/>
<rect x="1673.85" y="495.66" width="11.15" height="46.60" fill="#bebebe"/>
<rect x="1690.85" y="495.66" width="11.15" height="46.60" fill="#bebebe"/>
<rect x="1707.85" y="495.66" width="11.15" height="46.60" fill="#bebebe"/>
<rect x="1724.85" y="495.66" width="11.15" height="46.60" fill="#bebebe"/>
<rect x="1741.85" y="495.66" width="11.15" height="46.60" fill="#bebebe"/>
<rect x="1758.85" y="495.66" width="11.15" height="46.60" fill="#bebebe"/>
<rect x="1775.85" y="495.66" width="11.15" height="46.60" fill="#bebebe"/>
<rect x="1792.85" y="495.66" width="11.15" height="46.60" fill="#bebebe"/>
<rect x="1809.85" y="495.66" width="11.15" height="46.60" fill="#bebebe"/>
<rect x="1826.85" y="495.66" width="11.15" height="46.60" fill="#bebebe"/>
<rect x="1843.85" y="495.66" width="11.15" height="46.60" fill="#bebebe"/>
<rect x="1860.85" y="495.66" width="11.15" height="46.60" fill="#bebebe"/>
<rect x="1877.85" y="495.66" width="11.15" height="46.60" fill="#bebebe"/>
<rect x="1894.85" y="495.66" width="11.15" height="46.60" fill="#bebebe"/>
<rect x="1911.85" y="495.66" width="11.15" height="46.60" fill="#bebebe"/>
<rect x="1928.85" y="495.66" width="11.15" height="46.60" fill="#bebebe"/>
<rect x="1945.85" y="495.66" width="11.15" height="46.60" fill="#bebebe"/>
<rect x="1962.85" y="495.66" width="11.15" height="46.60" fill="#bebebe"/>
</g>
<g class="row">
<rect x="1418.85" y="563.52" width="11.15" height="46.60" fill="#bebebe"/>
<rect x="1435.85" y="563.52" width="11.15" height="46.60" fill="#bebebe"/>
<rect x="1452.85" y="563.52" width="11.15" height="46.60" fill="#bebebe"/>
<rect x="1469.85" y="563.52" width="11.15" height="46.60" fill="#bebebe"/>
<rect x="1486.85" y="563.52" width="11.15" height="46.60" fill="#bebebe"/>
<rect x="1503.85" y="563.52" width="11.15" height="46.60" fill="#bebebe"/>
<rect x="1520.85" y="563.52" width="11.15" height="46.60" fill="#bebebe"/>
<rect x="1537.85" y="563.52" width="11.15" height="46.60" fill="#bebebe"/>
<rect x="1554.85" y="563.52" width="11.15" height="46.60" fill="#bebebe"/>
<rect x="1571.85" y="563.52" width="11.15" height="46.60" fill="#bebebe"/>
<rect x="1588.85" y="563.52" width="11.15" height="46.60" fill="#bebebe"/>
<rect x="1605.85" y="563.52" width="11.15" height="46.60" fill="#bebebe"/>
<rect x="1622.85" y="563.52" width="11.15" height="46.60" fill="#bebebe"/>
<rect x="1639.85" y="563.52" width="11.15" height="46.60" fill="#bebebe"/>
<rect x="1656.85" y="563.52" width="11.15" height="46.60" fill="#bebebe"/>
<rect x="1673.85" y="563.52" width="11.15" height="46.60" fill="#bebebe"/>
<rect x="1690.85" y="563.52" width="11.15" height="46.60" fill="#bebebe"/>
<rect x="1707.85" y="563.52" width="11.15" height="46.60" fill="#bebebe"/>
<rect x="1724.85" y="563.52" width="11.15" height="46.60" fill="#bebebe"/>
<rect x="1741.85" y="563.52" width="11.15" height="46.60" fill="#bebebe"/>
<rect x="1758.85" y="563.52" width="11.15" height="46.60" fill="#bebebe"/>
<rect x="1775.85" y="563.52" width="11.15" height="46.60" fill="#bebebe"/>
<rect x="1792.85" y="563.52" width="11.15" height="46.60" fill="#bebebe"/>
<rect x="1809.85" y="563.52" width="11.15" height="46.60" fill="#bebebe"/>
<rect x="1826.85" y="563.52" width="11.15" height="46.60" fill="#bebebe"/>
<rect x="1843.85" y="563.52" width="11.15" height="46.60" fill="#bebebe"/>
<rect x="1860.85" y="563.52" width="11.15" height="46.60" fill="#bebebe"/>
<rect x="1877.85" y="563.52" width="11.15" height="46.60" fill="#bebebe"/>
<rect x="1894.85" y="563.52" width="11.15" height="46.60" fill="#bebebe"/>
<rect x="1911.85" y="563.52" width="11.15" height="46.60" fill="#bebebe"/>
<rect x="1928.85" y="563.52" width="11.15" height="46.60" fill="#bebebe"/>
<rect x="1945.85" y="563.52" width="11.15" height="46.60" fill="#bebebe"/>
<rect x="1962.85" y="563.52" width="11.15" height="46.60" fill="#bebebe"/>
</g>
<g class="row">
<rect x="1418.85" y="631.38" width="11.15" height="46.60" fill="#bebebe"/>
<rect x="1435.85" y="631.38" width="11.15" height="46.60" fill="#bebebe"/>
<rect x="1452.85" y="631.38" width="11.15" height="46.60" fill="#bebebe"/>
<rect x="1469.85" y="631.38" width="11.15" height="46.60" fill="#bebebe"/>
<rect x="1486.85" y="631.38" width="11.15" height="46.60" fill="#bebebe"/>
<rect x="1503.85" y="631.38" width="11.15" height="46.60" fill="#bebebe"/>
<rect x="1520.85" y="631.38" width="11.15" height="46.60" fill="#bebebe"/>
<rect x="1537.85" y="631.38" width="11.15" height="46.60" fill="#bebebe"/>
<rect x="1554.85" y="631.38" width="11.15" height="46.60" fill="#bebebe"/>
<rect x="1571.85" y="631.38" width="11.15" height="46.60" fill="#bebebe"/>
<rect x="1588.85" y="631.38" width="11.15" height="46.60" fill="#bebebe"/>
<rect x="1605.85" y="631.38" width="11.15" height="46.60" fill="#bebebe"/>
<rect x="1622.85" y="631.38" width="11.15" height="46.60" fill="#bebebe"/>
<rect x="1639.85" y="631.38" width="11.15" height="46.60" fill="#bebebe"/>
<rect x="1656.85" y="631.38" width="11.15" height="46.60" fill="#bebebe"/>
<rect x="1673.85" y="631.38" width="11.15" height="46.60" fill="#bebebe"/>
<rect x="1690.85" y="631.38" width="11.15" height="46.60" fill="#bebebe"/>
<rect x="1707.85" y="631.38" width="11.15" height="46.60" fill="#bebebe"/>
<rect x="1724.85" y="631.38" width="11.15" height="46.60" fill="#bebebe"/>
<rect x="1741.85" y="631.38" width="11.15" height="46.60" fill="#bebebe"/>
<rect x="1758.85" y="631.38" width="11.15" height="46.60" fill="#bebebe"/>
<rect x="1775.85" y="631.38" width="11.15" height="46.60" fill="#bebebe"/>
<rect x="1792.85" y="631.38" width="11.15" height="46.60" fill="#bebebe"/>
<rect x="1809.85" y="631.38" width="11.15" height="46.60" fill="#bebebe"/>
<rect x="1826.85" y="631.38" width="11.15" height="46.60" fill="#bebebe"/>
<rect x="1843.85" y="631.38" width="11.15" height="46.60" fill="#bebebe"/>
<rect x="1860.85" y="631.38" width="11.15" height="46.60" fill="#bebebe"/>
<rect x="1877.85" y="631.38" width="11.15" height="46.60" fill="#bebebe"/>
<rect x="1894.85" y="631.38" width="11.15" height="46.60" fill="#bebebe"/>
<rect x="1911.85" y="631.38" width="11.15" height="46.60" fill="#bebebe"/>
<rect x="1928.85" y="631.38" width="11.15" height="46.60" fill="#bebebe"/>
<rect x="1945.85" y="631.38" width="11.15" height="46.60" fill="#bebebe"/>
<rect x="1962.85" y="631.38" width="11.15" height="46.60" fill="#bebebe"/>
</g>
<g class="row">
<rect x="1418.85" y="699.24" width="11.15" height="46.60" fill="#bebebe"/>
<rect x="1435.85" y="699.24" width="11.15" height="46.60" fill="#bebebe"/>
<rect x="1452.85" y="699.24" width="11.15" height="46.60" fill="#bebebe"/>
<rect x="1469.85" y="699.24" width="11.15" height="46.60" fill="#bebebe"/>
<rect x="1486.85" y="699.24" width="11.15" height="46.60" fill="#bebebe"/>
<rect x="1503.85" y="699.24" width="11.15" height="46.60" fill="#bebebe"/>
<rect x="1520.85" y="699.24" width="11.15" height="46.60" fill="#bebebe"/>
<rect x="1537.85" y="699.24" width="11.15" height="46.60" fill="#bebebe"/>
<rect x="1554.85" y="699.24" width="11.15" height="46.60" fill="#bebebe"/>
<rect x="1571.85" y="699.24" width="11.15" height="46.60" fill="#bebebe"/>
<rect x="1588.85" y="699.24" width="11.15" height="46.60" fill="#bebebe"/>
<rect x="1605.85" y="699.24" width="11.15" height="46.60" fill="#bebebe"/>
<rect x="1622.85" y="699.24" width="11.15" height="46.60" fill="#bebebe"/>
<rect x="1639.85" y="699.24" width="11.15" height="46.60" fill="#bebebe"/>
<rect x="1656.85" y="699.24" width="11.15" height="46.60" fill="#bebebe"/>
<rect x="1673.85" y="699.24" width="11.15" height="46.60" fill="#bebebe"/>
<rect x="1690.85" y="699.24" width="11.15" height="46.60" fill="#bebebe"/>
<rect x="1707.85" y="699.24" width="11.15" height="46.60" fill="#bebebe"/>
<rect x="1724.85" y="699.24" width="11.15" height="46.60" fill="#bebebe"/>
<rect x="1741.85" y="699.24" width="11.15" height="46.60" fill="#bebebe"/>
<rect x="1758.85" y="699.24" width="11.15" height="46.60" fill="#bebebe"/>
<rect x="1775.85" y="699.24" width="11.15" height="46.60" fill="#bebebe"/>
<rect x="1792.85" y="699.24" width="11.15" height="46.60" fill="#bebebe"/>
<rect x="1809.85" y="699.24" width="11.15" height="46.60" fill="#bebebe"/>
<rect x="1826.85" y="699.24" width="11.15" height="46.60" fill="#bebebe"/>
<rect x="1843.85" y="699.24" width="11.15" height="46.60" fill="#bebebe"/>
<rect x="1860.85" y="699.24" width="11.15" height="46.60" fill="#bebebe"/>
<rect x="1877.85" y="699.24" width="11.15" height="46.60" fill="#bebebe"/>
<rect x="1894.85" y="699.24" width="11.15" height="46.60" fill="#bebebe"/>
<rect x="1911.85" y="699.24" width="11.15" height="46.60" fill="#bebebe"/>
<rect x="1928.85" y="699.24" width="11.15" height="46.60" fill="#bebebe"/>
<rect x="1945.85" y="699.24" width="11.15" height="46.60" fill="#bebebe"/>
<rect x="1962.85" y="699.24" width="11.15" height="46.60" fill="#bebebe"/>
</g>
<g class="row">
<rect x="1418.85" y="767.10" width="11.15" height="46.60" fill="#bebebe"/>
<rect x="1435.85" y="767.10" width="11.15" height="46.60" fill="#bebebe"/>
<rect x="1452.85" y="767.10" width="11.15" height="46.60" fill="#bebebe"/>
<rect x="1469.85" y="767.10" width="11.15" height="46.60" fill="#bebebe"/>
<rect x="1486.85" y="767.10" width="11.15" height="46.60" fill="#bebebe"/>
<rect x="1503.85" y="767.10" width="11.15" height="46.60" fill="#bebebe"/>
<rect x="1520.85" y="767.10" width="11.15" height="46.60" fill="#bebebe"/>
<rect x="1537.85" y="767.10" width="11.15" height="46.60" fill="#bebebe"/>
<rect x="1554.85" y="767.10" width="11.15" height="46.60" fill="#bebebe"/>
<rect x="1571.85" y="767.10" width="11.15" height="46.60" fill="#bebebe"/>
<rect x="1588.85" y="767.10" width="11.15" height="46.60" fill="#bebebe"/>
<rect x="1605.85" y="767.10" width="11.15" height="46.60" fill="#bebebe"/>
<rect x="1622.85" y="767.10" width="11.15" height="46.60" fill="#bebebe"/>
<rect x="1639.85" y="767.10" width="11.15" height="46.60" fill="#bebebe"/>
<rect x="1656.85" y="767.10" width="11.15" height="46.60" fill="#bebebe"/>
<rect x="1673.85" y="767.10" width="11.15" height="46.60" fill="#bebebe"/>
<rect x="1690.85" y="767.10" width="11.15" height="46.60" fill="#bebebe"/>
<rect x="1707.85" y="767.10" width="11.15" height="46.60" fill="#bebebe"/>
<rect x="1724.85" y="767.10" width="11.15" height="46.60" fill="#bebebe"/>
<rect x="1741.85" y="767.10" width="11.15" height="46.60" fill="#bebebe"/>
<rect x="1758.85" y="767.10" width="11.15" height="46.60" fill="#bebebe"/>
<rect x="1775.85" y="767.10" width="11.15" height="46.60" fill="#bebebe"/>
<rect x="1792.85" y="767.10" width="11.15" height="46.60" fill="#bebebe"/>
<rect x="1792.45" y="782.28" width="11.80" height="16.23" fill="#000000"/>
<rect x="1792.30" y="788.50" width="12.25" height="3.80" fill="#ffffff"/>
<rect x="1809.85" y="767.10" width="11.15" height="46.60" fill="#bebebe"/>
<rect x="1826.85" y="767.10" width="11.15" height="46.60" fill="#bebebe"/>
<rect x="1843.85" y="767.10" width="11.15" height="46.60" fill="#bebebe"/>
<rect x="1860.85" y="767.10" width="11.15" height="46.60" fill="#bebebe"/>
<rect x="1877.85" y="767.10" width="11.15" height="46.60" fill="#bebebe"/>
<rect x="1894.85" y="767.10" width="11.15" height="46.60" fill="#bebebe"/>
<rect x="1911.85" y="767.10" width="11.15" height="46.60" fill="#bebebe"/>
<rect x="1928.85" y="767.10" width="11.15" height="46.60" fill="#bebebe"/>
<rect x="1945.85" y="767.10" width="11.15" height="46.60" fill="#bebebe"/>
<rect x="1962.85" y="767.10" width="11.15" height="46.60" fill="#bebebe"/>
</g>
<g class="row">
<rect x="1418.85" y="834.96" width="11.15" height="46.60" fill="#bebebe"/>
<rect x="1435.85" y="834.96" width="11.15" height="46.60" fill="#bebebe"/>
<rect x="1452.85" y="834.96" width="11.15" height="46.60" fill="#bebebe"/>
<rect x="1469.85" y="834.96" width="11.15" height="46.60" fill="#bebebe"/>
<rect x="1486.85" y="834.96" width="11.15" height="46.60" fill="#bebebe"/>
<rect x="1503.85" y="834.96" width="11.15" height="46.60" fill="#bebebe"/>
<rect x="1520.85" y="834.96" width="11.15" height="46.60" fill="#bebebe"/>
<rect x="1537.85" y="834.96" width="11.15" height="46.60" fill="#bebebe"/>
<rect x="1554.85" y="834.96" width="11.15" height="46.60" fill="#bebebe"/>
<rect x="1571.85" y="834.96" width="11.15" height="46.60" fill="#bebebe"/>
<rect x="1588.85" y="834.96" width="11.15" height="46.60" fill="#bebebe"/>
<rect x="1605.85" y="834.96" width="11.15" height="46.60" fill="#bebebe"/>
<rect x="1622.85" y="834.96" width="11.15" height="46.60" fill="#bebebe"/>
<rect x="1639.85" y="834.96" width="11.15" height="46.60" fill="#bebebe"/>
<rect x="1656.85" y="834.96" width="11.15" height="46.60" fill="#bebebe"/>
<rect x="1673.85" y="834.96" width="11.15" height="46.60" fill="#bebebe"/>
<rect x="1690.85" y="834.96" width="11.15" height="46.60" fill="#bebebe"/>
<rect x="1707.85" y="834.96" width="11.15" height="46.60" fill="#bebebe"/>
<rect x="1724.85" y="834.96" width="11.15" height="46.60" fill="#bebebe"/>
<rect x="1741.85" y="834.96" width="11.15" height="46.60" fill="#bebebe"/>
<rect x="1758.85" y="834.96" width="11.15" height="46.60" fill="#bebebe"/>
<rect x="1775.85" y="834.96" width="11.15" height="46.60" fill="#bebebe"/>
<rect x="1792.85" y="834.96" width="11.15" height="46.60" fill="#bebebe"/>
<rect x="1809.85" y="834.96" width="11.15" height="46.60" fill="#bebebe"/>
<rect x="1826.85" y="834.96" width="11.15" height="46.60" fill="#bebebe"/>
<rect x="1843.85" y="834.96" width="11.15" height="46.60" fill="#bebebe"/>
<rect x="1860.85" y="834.96" width="11.15" height="46.60" fill="#bebebe"/>
<rect x="1877.85" y="834.96" width="11.15" height="46.60" fill="#bebebe"/>
<rect x="1894.85" y="834.96" width="11.15" height="46.60" fill="#bebebe"/>
<rect x="1911.85" y="834.96" width="11.15" height="46.60" fill="#bebebe"/>
<rect x="1928.85" y="834.96" width="11.15" height="46.60" fill="#bebebe"/>
<rect x="1945.85" y="834.96" width="11.15" height="46.60" fill="#bebebe"/>
<rect x="1962.85" y="834.96" width="11.15" height="46.60" fill="#bebebe"/>
</g>
</g>
<g id="tmb">
<rect x="1418.70" y="40.65" width="11.40" height="6.35" fill="#008000"/>
<rect x="1435.70" y="0.00" width="11.40" height="47.00" fill="#008000"/>
<rect x="1452.70" y="34.25" width="11.40" height="12.75" fill="#008000"/>
<rect x="1469.70" y="37.55" width="11.40" height="9.45" fill="#008000"/>
<rect x="1486.70" y="39.30" width="11.40" height="7.70" fill="#008000"/>
<rect x="1503.70" y="39.30" width="11.40" height="7.70" fill="#008000"/>
<rect x="1520.70" y="31.75" width="11.40" height="15.25" fill="#008000"/>
<rect x="1537.70" y="36.05" width="11.40" height="10.95" fill="#008000"/>
<rect x="1554.70" y="44.85" width="11.40" height="2.15" fill="#008000"/>
<rect x="1571.70" y="30.70" width="11.40" height="16.30" fill="#008000"/>
<rect x="1588.70" y="32.75" width="11.40" height="14.25" fill="#008000"/>
<rect x="1605.70" y="0.00" width="11.40" height="47.00" fill="#008000"/>
<rect x="1622.70" y="32.05" width="11.40" height="14.95" fill="#008000"/>
<rect x="1639.70" y="10.95" width="11.40" height="36.05" fill="#008000"/>
<rect x="1656.70" y="39.50" width="11.40" height="7.50" fill="#008000"/>
<rect x="1673.70" y="37.75" width="11.40" height="9.25" fill="#008000"/>
<rect x="1690.70" y="32.95" width="11.40" height="14.05" fill="#008000"/>
<rect x="1707.70" y="20.85" width="11.40" height="26.15" fill="#008000"/>
<rect x="1724.70" y="21.35" width="11.40" height="25.65" fill="#008000"/>
<rect x="1741.70" y="33.95" width="11.40" height="13.05" fill="#008000"/>
<rect x="1758.70" y="36.75" width="11.40" height="10.25" fill="#008000"/>
<rect x="1775.70" y="25.85" width="11.40" height="21.15" fill="#008000"/>
<rect x="1809.70" y="26.15" width="11.40" height="20.85" fill="#008000"/>
<rect x="1826.70" y="45.05" width="11.40" height="1.95" fill="#008000"/>
<rect x="1843.70" y="36.05" width="11.40" height="10.95" fill="#008000"/>
<rect x="1860.70" y="40.35" width="11.40" height="6.65" fill="#008000"/>
<rect x="1877.70" y="45.55" width="11.40" height="1.45" fill="#008000"/>
<rect x="1894.70" y="37.75" width="11.40" height="9.25" fill="#008000"/>
<rect x="1911.70" y="25.35" width="11.40" height="21.65" fill="#008000"/>
<rect x="1928.70" y="38.55" width="11.40" height="8.45" fill="#008000"/>
<rect x="1945.70" y="22.35" width="11.40" height="24.65" fill="#008000"/>
<rect x="1962.70" y="29.85" width="11.40" height="17.15" fill="#008000"/>
</g>
<g id="labels">
<text transform="translate(18.70 124.00) scale(1 1.04)" class="gene">CDH1</text>
<text transform="translate(346.10 127.50) scale(1 1.04)" class="pct">61%</text>
<text transform="translate(18.70 194.70) scale(1 1.04)" class="gene">TP53</text>
<text transform="translate(346.10 190.90) scale(1 1.04)" class="pct">76%</text>
<text transform="translate(18.70 261.20) scale(1 1.04)" class="gene">RB1</text>
<text transform="translate(346.10 260.60) scale(1 1.04)" class="pct">55%</text>
<text transform="translate(18.70 328.70) scale(1 1.04)" class="gene">CDKN1A</text>
<text transform="translate(346.10 325.50) scale(1 1.04)" class="pct">27%</text>
<text transform="translate(18.70 395.20) scale(1 1.04)" class="gene">PIK3CA</text>
<text transform="translate(346.10 395.50) scale(1 1.04)" class="pct">27%</text>
<text transform="translate(18.70 463.30) scale(1 1.04)" class="gene">ARID1A</text>
<text transform="translate(346.10 461.20) scale(1 1.04)" class="pct">21%</text>
<text transform="translate(18.70 531.50) scale(1 1.04)" class="gene">KDM6A</text>
<text transform="translate(346.10 530.20) scale(1 1.04)" class="pct">18%</text>
<text transform="translate(18.70 598.20) scale(1 1.04)" class="gene">ERBB2</text>
<text transform="translate(346.10 598.20) scale(1 1.04)" class="pct">12%</text>
<text transform="translate(18.70 665.10) scale(1 1.04)" class="gene">KMT2D</text>
<text transform="translate(346.10 665.10) scale(1 1.04)" class="pct">12%</text>
<text transform="translate(18.70 731.90) scale(1 1.04)" class="gene">FAT1</text>
<text transform="translate(346.10 735.30) scale(1 1.04)" class="pct">6%</text>
<text transform="translate(18.70 799.90) scale(1 1.04)" class="gene">CREBBP</text>
<text transform="translate(346.10 800.60) scale(1 1.04)" class="pct">6%</text>
<text transform="translate(18.70 868.50) scale(1 1.04)" class="gene">KMT2A</text>
<text transform="translate(346.10 867.80) scale(1 1.04)" class="pct">3%</text>
<text transform="translate(18.70 936.00) scale(1 1.04)" class="gene">KMT2C</text>
<text transform="translate(346.10 935.00) scale(1 1.04)" class="pct">0%</text>
<text transform="translate(18.70 1003.00) scale(1 1.04)" class="gene">ERBB4</text>
<text transform="translate(346.10 1002.30) scale(1 1.04)" class="pct">0%</text>
<text transform="translate(18.70 1070.60) scale(1 1.04)" class="gene">MDM2</text>
<text transform="translate(346.10 1070.00) scale(1 1.04)" class="pct">3%</text>
<text transform="translate(18.70 1137.50) scale(1 1.04)" class="gene">FGFR3</text>
<text transform="translate(346.10 1135.80) scale(1 1.04)" class="pct">3%</text>
<text transform="translate(1023.60 120.00) scale(1 1.04)" class="gene">CDH1</text>
<text transform="translate(1353.80 120.50) scale(1 1.04)" class="pct">61%</text>
<text transform="translate(1023.60 188.70) scale(1 1.04)" class="gene">ERCC2</text>
<text transform="translate(1353.80 188.50) scale(1 1.04)" class="pct">9%</text>
<text transform="translate(1023.60 257.10) scale(1 1.04)" class="gene">ERCC3</text>
<text transform="translate(1353.80 257.50) scale(1 1.04)" class="pct">0%</text>
<text transform="translate(1023.60 324.40) scale(1 1.04)" class="gene">ERCC5</text>
<text transform="translate(1353.80 325.00) scale(1 1.04)" class="pct">0%</text>
<text transform="translate(1023.60 392.40) scale(1 1.04)" class="gene">ATM</text>
<text transform="translate(1353.80 391.40) scale(1 1.04)" class="pct">9%</text>
<text transform="translate(1023.60 460.80) scale(1 1.04)" class="gene">ATR</text>
<text transform="translate(1353.80 460.20) scale(1 1.04)" class="pct">0%</text>
<text transform="translate(1023.60 528.20) scale(1 1.04)" class="gene">BRCA1</text>
<text transform="translate(1353.80 526.10) scale(1 1.04)" class="pct">3%</text>
<text transform="translate(1023.60 596.80) scale(1 1.04)" class="gene">BRCA2</text>
<text transform="translate(1353.80 594.70) scale(1 1.04)" class="pct">0%</text>
<text transform="translate(1023.60 664.40) scale(1 1.04)" class="gene">FANCA</text>
<text transform="translate(1353.80 662.70) scale(1 1.04)" class="pct">0%</text>
<text transform="translate(1023.60 730.00) scale(1 1.04)" class="gene">FANCC</text>
<text transform="translate(1353.80 729.00) scale(1 1.04)" class="pct">0%</text>
<text transform="translate(1023.60 799.30) scale(1 1.04)" class="gene">RECQL4</text>
<text transform="translate(1353.80 797.60) scale(1 1.04)" class="pct">3%</text>
<text transform="translate(1023.60 870.20) scale(1 1.04)" class="gene">RAD51C</text>
<text transform="translate(1353.80 865.60) scale(1 1.04)" class="pct">0%</text>
<text transform="translate(1029.37 32.80) scale(1 1.04)" class="tmbt">Impact TMB score</text>
<text transform="translate(-0.85 1241.90) scale(1 1.04)" class="head">Genetic alteration</text>
<text transform="translate(-1.31 1522.40) scale(1 1.04)" class="head">Impact TMB score</text>
</g>
<g id="legend">
<rect x="514.10" y="1213.30" width="14.75" height="48.50" fill="#bebebe"/>
<rect x="513.95" y="1228.90" width="15.00" height="16.50" fill="#008000"/>
<text transform="translate(541.80 1247.10) scale(1 1.03)" class="leg">Missense mutation (putative driver)</text>
<rect x="1049.50" y="1213.30" width="15.10" height="48.50" fill="#bebebe"/>
<rect x="1049.40" y="1228.70" width="15.30" height="16.80" fill="#53d400"/>
<text transform="translate(1076.05 1246.75) scale(1 1.03)" class="leg">Missense mutation (unknown significance)</text>
<rect x="514.10" y="1286.70" width="14.75" height="49.20" fill="#bebebe"/>
<rect x="513.95" y="1302.60" width="15.00" height="16.70" fill="#000000"/>
<text transform="translate(541.74 1321.00) scale(1 1.03)" class="leg">Truncating mutation (putative driver)</text>
<rect x="1063.30" y="1286.70" width="14.75" height="49.20" fill="#bebebe"/>
<rect x="1063.10" y="1296.20" width="15.20" height="29.50" fill="#8b00c9"/>
<text transform="translate(1089.10 1322.70) scale(1 1.03)" class="leg">Fusion</text>
<rect x="1229.10" y="1286.70" width="14.75" height="49.20" fill="#bebebe"/>
<rect x="1228.60" y="1308.70" width="15.80" height="5.10" fill="#ffffff"/>
<text transform="translate(1255.54 1321.60) scale(1 1.03)" class="leg">Germline mutation</text>
<rect x="1547.20" y="1286.40" width="15.40" height="49.60" fill="#ff0000"/>
<text transform="translate(1576.50 1321.70) scale(1 1.03)" class="leg">Amplification</text>
<rect x="1791.55" y="1286.40" width="15.30" height="49.60" fill="#0000ff"/>
<text transform="translate(1818.00 1321.70) scale(1 1.03)" class="leg">Deep deletion</text>
<rect x="514.10" y="1360.70" width="14.75" height="49.20" fill="#bebebe"/>
<text transform="translate(542.05 1397.60) scale(1 1.03)" class="leg">No alterations</text>
<text transform="translate(517.20 1520.70) scale(1 1.03)" class="leg">1.8</text>
<polygon points="526.3,1539.5 622.3,1489.7 623.9,1539.5" fill="#008000"/>
<text transform="translate(639.98 1519.80) scale(1 1.03)" class="leg">45.6</text>
</g>
</svg>
</body>
</html>
